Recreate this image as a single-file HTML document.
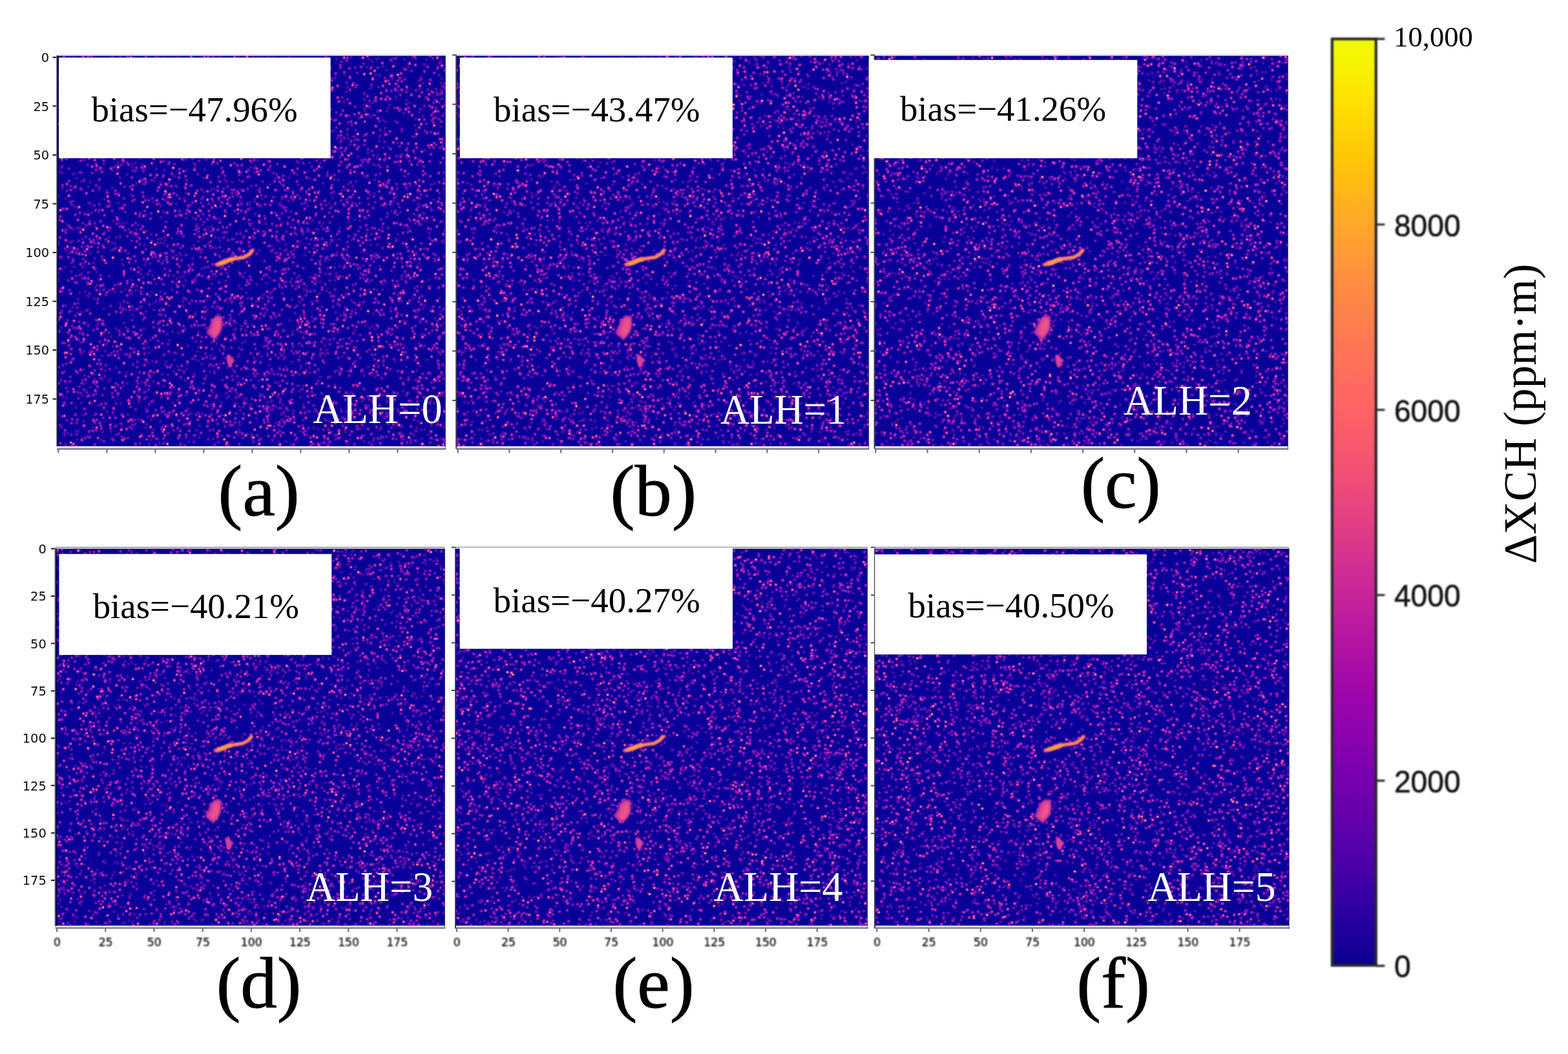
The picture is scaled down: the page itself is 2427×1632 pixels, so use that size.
<!DOCTYPE html>
<html lang="en"><head><meta charset="utf-8">
<title>Methane plume retrieval bias at different aerosol layer heights</title>
<style>
html,body{margin:0;padding:0;background:#fff;}
body{width:2427px;height:1632px;overflow:hidden;position:relative;}
svg{display:block;position:absolute;left:0;top:0;}
.se{font-family:"Liberation Serif","Times New Roman",serif;}
.sa{font-family:"DejaVu Sans","Liberation Sans",sans-serif;}
.ar{font-family:"Liberation Sans","DejaVu Sans",sans-serif;}
</style></head><body>
<svg width="2427" height="1632" viewBox="0 0 2427 1632">
<defs>
<filter id="bl" x="-20%" y="-20%" width="140%" height="140%" color-interpolation-filters="sRGB"><feGaussianBlur stdDeviation="1"/></filter>
<filter id="tb" x="-5%" y="-20%" width="110%" height="140%" color-interpolation-filters="sRGB"><feGaussianBlur stdDeviation="0.85"/></filter>
<filter id="tb2" x="-5%" y="-20%" width="110%" height="140%" color-interpolation-filters="sRGB"><feGaussianBlur stdDeviation="0.9"/></filter>
<linearGradient id="pl" x1="0" y1="1" x2="0" y2="0">
<stop offset="0%" stop-color="#0a0090"/>
<stop offset="3.6%" stop-color="#2000a0"/>
<stop offset="9.6%" stop-color="#4400a8"/>
<stop offset="16%" stop-color="#6400ac"/>
<stop offset="22.2%" stop-color="#8000b0"/>
<stop offset="28.5%" stop-color="#9c04ac"/>
<stop offset="34.8%" stop-color="#b414a4"/>
<stop offset="41.2%" stop-color="#cc2898"/>
<stop offset="47.6%" stop-color="#e23e86"/>
<stop offset="54%" stop-color="#f45272"/>
<stop offset="60.6%" stop-color="#fe6464"/>
<stop offset="67%" stop-color="#ff7654"/>
<stop offset="73.6%" stop-color="#ff8c40"/>
<stop offset="80.2%" stop-color="#ffa828"/>
<stop offset="86.6%" stop-color="#ffc408"/>
<stop offset="93.2%" stop-color="#ffe000"/>
<stop offset="98%" stop-color="#f4f600"/>
<stop offset="100%" stop-color="#f0fa00"/>
</linearGradient>
<path id="n0" d="M.5 .5m19 0h0m138 0h0m49 0h0m37 0h0m115 1h0m-332 1h0m223 0h0m31 0h0m174 0h0m-288 1h0m13 1h0m128 0h0m112 0h0m77 0h0m-269 1h0m204 0h0m50 0h0m12 0h0m43 0h0m34 1h0m23 0h0m-576 1h0m222 0h0m143 0h0m38 0h0m-208 1h0m33 0h0m241 0h0m31 0h0m-209 1h0m-135 1h0m213 0h0m207 0h0m-527 1h0m97 0h0m379 0h0m-333 1h0m28 0h0m53 0h0m52 0h0m-313 1h0m28 0h0m168 0h0m341 0h0m-330 1h0m332 0h0m-65 2h0m-388 1h0m363 0h0m64 0h0m51 0h0m-318 2h0m22 0h0m5 0h0m-300 1h0m39 0h0m62 1h0m235 0h0m-127 1h0m29 0h0m13 0h0m256 0h0m-395 1h0m123 0h0m-177 1h0m179 0h0m-138 1h0m12 0h0m289 0h0m-347 2h0m102 1h0m52 0h0m235 0h0m-292 1h0m61 0h0m74 0h0m22 0h0m104 0h0m7 0h0m72 0h0m-302 1h0m11 0h0m77 0h0m220 0h0m92 0h0m-138 1h0m-400 1h0m95 0h0m-94 1h0m267 1h0m109 0h0m131 0h0m2 0h0m-239 1h0m130 0h0m141 0h0m-564 1h0m147 0h0m136 0h0m81 0h0m-97 1h0m-4 1h0m213 1h0m-473 1h0m380 1h0m179 0h0m-553 1h0m261 0h0m3 0h0m20 0h0m21 0h0m221 0h0m-450 1h0m11 0h0m26 0h0m77 0h0m282 0h0m-424 1h0m104 0h0m168 0h0m55 0h0m-394 1h0m161 0h0m-168 1h0m104 0h0m24 0h0m25 0h0m24 0h0m116 0h0m-227 1h0m13 0h0m393 0h0m-404 1h0m15 0h0m114 0h0m238 0h0m48 0h0m-376 1h0m401 0h0m-433 1h0m395 0h0m-462 1h0m8 0h0m332 0h0m199 0h0m-298 2h0m253 0h0m25 0h0m-320 1h0m74 0h0m232 0h0m-200 1h0m121 0h0m-446 1h0m57 1h0m51 0h0m31 2h0m15 0h0m227 0h0m-345 2h0m149 0h0m205 1h0m-295 1h0m260 0h0m42 0h0m-326 1h0m214 0h0m237 0h0m46 1h0m-264 1h0m-38 1h0m207 0h0m-454 1h0m194 0h0m325 0h0m-351 1h0m81 0h0m-25 1h0m-187 1h0m386 0h0m-77 1h0m68 0h0m53 0h0m57 0h0m46 0h0m-300 1h0m-164 2h0m252 0h0m97 0h0m38 0h0m-348 2h0m51 1h0m92 2h0m35 0h0m131 0h0m37 0h0m-460 1h0m34 0h0m34 0h0m-4 2h0m169 0h0m27 1h0m164 0h0m63 0h0m-292 1h0m71 0h0m69 0h0m123 0h0m-164 1h0m214 1h0m-472 1h0m448 0h0m63 0h0m-231 1h0m9 0h0m111 2h0m-413 1h0m76 0h0m94 0h0m58 0h0m24 1h0m57 0h0m182 0h0m-396 1h0m315 0h0m-419 2h0m223 0h0m89 0h0m89 0h0m88 1h0m-451 2h0m33 0h0m367 0h0m-454 1h0m52 0h0m421 0h0m-504 1h0m52 0h0m437 0h0m-89 2h0m-268 2h0m173 1h0m-264 1h0m3 0h0m10 0h0m481 0h0m-397 1h0m10 0h0m-35 1h0m198 0h0m51 0h0m212 0h0m-501 1h0m297 0h0m-264 1h0m382 0h0m-506 1h0m271 2h0m190 0h0m93 0h0m-127 1h0m-353 1h0m285 0h0m65 0h0m108 0h0m-232 1h0m122 0h0m83 0h0m-441 1h0m28 0h0m245 0h0m24 0h0m-137 1h0m70 0h0m260 0h0m-315 2h0m153 0h0m56 0h0m62 0h0m-11 1h0m-496 1h0m56 0h0m414 0h0m81 1h0m-353 1h0m190 0h0m106 0h0m-260 1h0m195 1h0m6 0h0m11 0h0m-95 1h0m-61 1h0m-189 1h0m356 0h0m37 1h0m-356 1h0m264 0h0m-192 1h0m224 0h0m-343 1h0m148 0h0m4 0h0m279 0h0m18 1h0m-520 1h0m93 0h0m336 0h0m103 1h0m-241 1h0m-102 1h0m299 1h0m-19 1h0m11 0h0m-386 1h0m81 0h0m71 0h0m84 1h0m186 0h0m-531 2h0m67 0h0m47 0h0m99 0h0m347 0h0m-149 1h0m-271 1h0m230 0h0m47 1h0m-364 1h0m118 0h0m29 0h0m16 0h0m256 0h0m71 0h0m-440 2h0m129 0h0m67 1h0m46 0h0m51 0h0m129 0h0m-522 1h0m185 0h0m299 0h0m-413 1h0m58 0h0m2 1h0m56 0h0m43 0h0m223 0h0m-217 1h0m292 0h0m-340 1h0m295 0h0m-423 1h0m487 0h0m-248 2h0m15 1h0m-231 3h0m27 0h0m252 0h0m17 0h0m-270 1h0m91 0h0m195 0h0m-334 1h0m30 0h0m13 0h0m16 1h0m357 0h0m-396 1h0m399 0h0m38 0h0m-413 2h0m190 0h0m87 0h0m-94 1h0m109 0h0m-403 1h0m299 1h0m-211 1h0m60 0h0m75 0h0m-93 1h0m31 0h0m-80 1h0m114 0h0m-196 2h0m281 0h0m225 0h0m-205 1h0m-297 1h0m19 1h0m-3 1h0m84 0h0m262 0h0m103 2h0m-292 1h0m355 0h0m1 0h0m-278 1h0m218 0h0m-380 1h0m242 0h0m19 0h0m-328 1h0m196 0h0m121 0h0m42 0h0m-348 2h0m1 0h0m134 0h0m160 0h0m92 0h0m62 0h0m-232 1h0m23 0h0m153 0h0m-284 1h0m110 0h0m-223 1h0m95 0h0m130 0h0m199 0h0m-410 1h0m108 0h0m111 0h0m238 0h0m-336 1h0m-50 1h0m288 0h0m173 0h0m-447 1h0m193 0h0m121 0h0m-436 1h0m358 0h0m206 0h0m-33 1h0m-363 1h0m23 0h0m95 0h0m156 0h0m49 0h0m-457 1h0m-40 2h0m17 0h0m60 0h0m157 1h0m216 0h0m139 0h0m-329 1h0m15 0h0m162 0h0m94 0h0m-500 1h0m25 0h0m174 0h0m8 0h0m-170 1h0m280 0h0m84 0h0m11 0h0m-225 2h0m331 0h0m-282 1h0m-76 1h0m291 0h0m100 0h0m-107 2h0m116 0h0m-485 1h0m409 3h0m-522 1h0m424 0h0m-412 1h0m183 0h0m120 0h0m-243 1h0m232 0h0m42 0h0m67 0h0m90 0h0m77 1h0m-414 1h0m-147 1h0m262 0h0m75 0h0m42 0h0m120 0h0m-519 1h0m149 0h0m156 0h0m-223 1h0m216 0h0m-204 1h0m162 0h0m88 0h0m76 0h0m-368 1h0m132 0h0m319 0h0m-161 1h0m166 0h0m50 0h0m-479 1h0m2 0h0m126 0h0m87 0h0m20 0h0m-213 1h0m59 0h0m340 0h0m-113 1h0m21 0h0m16 0h0m149 0h0m-546 1h0m461 1h0m-190 1h0m54 0h0m225 0h0m-97 3h0m36 1h0m-155 1h0m-297 1h0m100 0h0m2 0h0m95 0h0m269 0h0m-477 1h0m252 2h0m-112 1h0m364 1h0m-237 1h0m259 1h0m-419 1h0m39 1h0m11 0h0m40 1h0m227 0h0m-27 2h0m9 0h0m-372 1h0m307 0h0m73 0h0m102 0h0m26 0h0m-240 2h0m95 0h0m-399 1h0m44 0h0m12 0h0m240 0h0m-246 1h0m201 0h0m109 0h0m-397 1h0m308 0h0m52 0h0m-159 1h0m10 0h0m-100 1h0m437 0h0m-263 1h0m109 0h0m-350 1h0m180 0h0m210 1h0m95 0h0m-513 1h0m12 0h0m191 0h0m268 0h0m-115 1h0m50 0h0m106 0h0m-527 1h0m10 0h0m85 0h0m290 0h0m-278 1h0m204 0h0m42 0h0m35 0h0m-392 2h0m127 0h0m-22 1h0m120 0h0m85 0h0m33 0h0m32 0h0m-123 1h0m-7 1h0m318 0h0m-456 1h0m360 0h0m-333 1h0m234 0h0m106 0h0m41 0h0m-405 2h0m2 1h0m43 1h0m51 0h0m277 0h0m-414 1h0m11 0h0m135 0h0m18 0h0m-67 1h0m73 0h0m37 0h0m260 0h0m-508 1h0m23 0h0m97 0h0m3 0h0m111 0h0m250 0h0m-367 1h0m280 0h0m-269 1h0m288 0h0m-439 1h0m235 0h0m147 0h0m-374 1h0m194 0h0m125 0h0m32 0h0m48 0h0m-338 2h0m75 0h0m74 0h0m304 0h0m59 0h0m-538 1h0m30 0h0m75 0h0m258 0h0m-189 1h0m156 0h0m-254 1h0m218 0h0m131 0h0m10 0h0m-283 1h0m200 0h0m-80 1h0m-288 1h0m498 0h0m-518 1h0m16 0h0m52 0h0m55 1h0m99 0h0m-228 1h0m220 0h0m107 0h0m52 0h0m171 0h0m3 0h0m-216 1h0m-179 1h0m191 0h0m81 0h0m-434 1h0m86 0h0m213 0h0m-56 1h0m6 1h0m24 0h0m185 0h0m4 0h0m-448 1h0m195 0h0m118 0h0m92 0h0m7 0h0m-420 1h0m32 0h0m59 0h0m79 0h0m301 1h0m35 0h0m6 0h0m-373 1h0m26 1h0m7 0h0m93 0h0m99 0h0m12 0h0m171 0h0m-22 2h0m-537 1h0m513 0h0m69 1h0m-531 1h0m100 0h0m51 0h0m88 0h0m-38 1h0m-159 1h0m320 0h0m53 0h0m-316 1h0m7 1h0m116 0h0m134 0h0m35 0h0m-312 1h0m395 0h0m-476 2h0m491 0h0m-506 1h0m102 0h0m416 0h0m-458 1h0m1 1h0m33 0h0m309 0h0m29 1h0m-37 1h0m62 0h0m57 0h0m-529 1h0m162 0h0m18 0h0m260 0h0m-454 1h0m47 0h0m369 0h0m-10 1h0m51 0h0m-246 1h0m-94 1h0m217 2h0m-324 1h0m39 1h0m219 0h0m-77 1h0m87 0h0m-252 1h0m224 0h0m169 0h0m-302 1h0m286 0h0m122 0h0m-297 1h0m-93 1h0m33 0h0m-100 1h0m165 0h0m129 0h0m-179 1h0m246 0h0m-308 1h0m57 0h0m201 0h0m196 0h0m-259 1h0m43 0h0m-186 1h0m177 0h0m111 0h0m-238 1h0m297 0h0m-468 1h0m50 0h0m178 0h0m282 0h0m-376 1h0m231 0h0m-169 1h0m-214 1h0m308 0h0m46 0h0m6 0h0m-218 1h0m293 0h0m27 0h0m-185 1h0m217 0h0m59 0h0m-446 1h0m86 0h0m69 1h0m194 0h0m17 0h0m9 0h0m-467 1h0m62 1h0m65 0h0m93 0h0m93 0h0m11 0h0m178 2h0m-504 1h0m311 0h0m152 1h0m-517 1h0m280 0h0m-180 1h0m72 0h0m204 0h0m4 0h0m97 0h0m20 0h0m-435 1h0m54 0h0m373 0h0m-275 1h0m114 0h0m83 0h0m-407 1h0m34 0h0m72 0h0m31 0h0m13 0h0m-70 1h0m-54 1h0m77 0h0m180 0h0m56 1h0m57 0h0m-290 1h0m331 0h0m85 0h0m-212 1h0m207 0h0m-480 1h0m380 0h0m-283 1h0m-95 1h0m188 0h0m96 1h0m-38 1h0m24 0h0m9 0h0m50 0h0m213 0h0m-533 1h0m205 0h0m14 0h0m273 0h0m-517 1h0m198 0h0m133 0h0m16 0h0m0 1h0m-317 1h0m91 0h0m301 0h0m40 0h0m38 0h0m-338 1h0m113 0h0m86 0h0m-289 1h0m54 0h0m216 0h0m-223 1h0m316 0h0m21 0h0m-391 1h0m362 0h0m103 0h0m-549 3h0m160 0h0m135 0h0m259 0h0m-469 1h0m96 0h0m215 1h0m-385 1h0m102 1h0m119 0h0m5 0h0m5 0h0m260 0h0m64 0h0m-507 1h0m89 0h0m404 0h0m-447 1h0m351 0h0m-421 1h0m58 0h0m43 0h0m1 0h0m82 0h0m228 0h0m100 0h0m-538 1h0m571 1h0m-456 1h0m387 0h0m32 0h0m-519 1h0m164 0h0m12 0h0m217 0h0m13 0h0m-412 1h0m290 0h0m46 0h0m121 1h0m-240 1h0m33 0h0m-164 1h0m96 0h0m225 1h0m-227 1h0m182 1h0m51 0h0m107 1h0m-238 1h0m88 0h0m182 0h0m-252 1h0m-272 1h0m254 0h0m46 1h0m36 1h0m140 0h0m4 1h0m-283 1h0m271 0h0m-514 1h0m90 0h0m53 0h0m120 0h0m-213 1h0m230 0h0m304 0h0m-296 2h0m-240 1h0m154 0h0m-4 1h0m74 0h0m126 0h0m65 0h0m105 0h0m-209 1h0m114 0h0m-480 1h0m100 0h0m-16 1h0m392 0h0m-348 1h0m63 0h0m79 0h0m53 0h0m163 1h0m-399 1h0m181 0h0m77 0h0m109 0h0m-169 1h0m73 1h0m-186 1h0m40 0h0m215 0h0m2 0h0m48 0h0m-105 1h0m4 0h0m-195 1h0m-17 1h0m348 0h0m-24 1h0m68 0h0m-315 1h0m53 0h0m183 1h0m-400 1h0m345 3h0m-181 1h0m168 0h0m11 0h0m16 0h0m-298 1h0m29 1h0m-99 1h0m256 0h0m-311 1h0m195 0h0m76 0h0m-52 1h0m-202 1h0m102 0h0m148 0h0m107 0h0m-147 1h0m313 0h0m-483 1h0m455 0h0m-329 2h0m211 0h0m123 0h0m23 0h0m8 0h0m-481 1h0m10 0h0m126 0h0m96 0h0m246 0h0m-346 1h0m131 0h0m139 0h0m-347 1h0m-88 1h0m228 0h0m214 0h0m60 0h0m-535 1h0m96 0h0m3 0h0m139 1h0m-7 1h0m165 0h0m177 0h0m-533 1h0m14 0h0m-33 1h0m176 0h0m371 0h0m-446 2h0m170 0h0m32 0h0m-306 1h0m146 0h0m140 0h0m26 0h0m47 0h0m-231 1h0m115 0h0m-187 1h0m319 0h0m179 0h0m-510 1h0m155 0h0m-168 1h0m210 0h0m1 1h0m35 0h0m60 0h0m31 0h0m34 0h0m-210 1h0m218 0h0m-189 1h0m45 0h0m-67 1h0m-141 1h0m38 0h0m79 0h0m136 0h0m155 0h0m35 0h0m-358 1h0m390 0h0m-353 1h0m-71 1h0m374 0h0m-353 1h0m194 0h0m141 0h0m-363 1h0m447 0h0m-94 1h0m-270 1h0m29 0h0m-85 1h0m34 0h0m-133 1h0m66 0h0m193 0h0m-61 1h0m110 0h0m184 0h0m-374 1h0m413 0h0m-246 1h0m83 0h0m44 0h0m59 0h0m-448 1h0m172 0h0m113 0h0m13 0h0m-189 2h0m95 0h0m50 0h0m-304 1h0m230 0h0m-197 1h0m118 0h0m243 0h0m120 0h0m-360 1h0m47 0h0m190 0h0m17 0h0m-269 1h0m56 0h0m96 0h0m-225 1h0m45 0h0m238 0h0m96 0h0m-115 1h0m-159 1h0m95 0h0m-145 1h0m9 1h0m203 0h0m-332 1h0m169 0h0m263 0h0m-244 1h0m176 1h0m84 0h0m53 0h0m20 2h0m22 0h0m-528 2h0m12 0h0m13 0h0m477 0h0m-362 1h0m58 0h0m57 1h0m-297 1h0m65 0h0m69 0h0m-106 2h0m88 0h0m205 0h0m3 0h0m-299 1h0m68 0h0m294 0h0m-141 1h0m81 0h0m87 1h0m-327 2h0m62 0h0m207 0h0m2 0h0m7 0h0m-329 2h0m532 0h0m-366 2h0m48 1h0m-221 1h0m430 0h0m-100 2h0m160 0h0m-401 2h0m53 0h0m54 0h0m36 0h0m178 0h0m-453 1h0m150 0h0m68 0h0m42 0h0m301 1h0m-562 1h0m279 0h0m35 0h0m204 0h0m-393 1h0m74 0h0m38 0h0m264 0h0m3 0h0m-465 1h0m558 0h0m-588 1h0m84 0h0m172 0h0m-127 1h0m202 0h0m2 0h0m34 0h0m-362 1h0m99 1h0m149 0h0m30 0h0m175 0h0m20 0h0m-198 2h0m-140 1h0m37 0h0m391 0h0m-245 1h0m-2 1h0m141 0h0m-345 1h0m199 0h0m263 0h0m-551 1h0m141 0h0m27 0h0m49 0h0m39 0h0m289 0h0m-484 1h0m179 0h0m-224 1h0m-41 1h0m226 0h0m61 0h0m50 0h0m31 0h0m118 0h0m-434 1h0m268 1h0m-51 1h0m6 0h0m1 0h0m-259 1h0m309 0h0m82 1h0m-283 1h0m65 0h0m37 0h0m2 0h0m357 0h0m-526 1h0m88 0h0m278 0h0m87 0h0m-243 1h0m82 0h0m-364 1h0m250 0h0m79 0h0m120 0h0m126 0h0m-210 1h0m81 0h0m-369 1h0m61 0h0m60 0h0m385 0h0m-167 1h0m-209 1h0m214 0h0m40 0h0m82 0h0m-373 1h0m54 0h0m84 0h0m56 0h0m12 0h0m-267 1h0m445 0h0m13 0h0m-527 1h0m152 0h0m62 0h0m245 0h0m13 0h0m57 0h0m17 0h0m-234 1h0m81 0h0m-293 1h0m45 0h0m123 3h0m-183 1h0m257 0h0m31 0h0m41 0h0m-309 1h0m222 0h0m107 0h0m-124 1h0m29 0h0m-338 1h0m357 0h0m22 0h0m137 0h0m-492 1h0m52 0h0m42 0h0m98 0h0m218 0h0m101 0h0m-343 2h0m105 0h0m152 0h0m34 0h0m-424 1h0m21 0h0m152 0h0m-135 1h0m213 0h0m-232 1h0m79 0h0m84 0h0m-190 1h0m78 0h0m33 0h0m17 0h0m95 0h0m-151 1h0m-109 1h0m542 0h0m-591 1h0m131 0h0m259 0h0m159 0h0m-487 2h0m334 0h0m66 0h0m-319 1h0m131 0h0m62 0h0m156 0h0m64 0h0m5 0h0m-515 1h0m163 0h0m-186 1h0m346 0h0m-342 1h0m50 0h0m-13 1h0m375 0h0m87 1h0m-515 1h0m283 1h0m-21 1h0m107 0h0m165 0h0m22 0h0m-561 1h0m416 0h0m1 0h0m45 0h0m-342 1h0m123 0h0m-36 2h0m178 0h0m99 1h0m-457 1h0m202 0h0m258 0h0m64 0h0m16 0h0m13 0h0m-561 1h0m125 0h0m146 0h0m150 0h0m132 0h0m-517 1h0m77 0h0m344 1h0m67 0h0m-202 1h0m121 0h0m-271 1h0m-45 2h0m184 0h0m66 0h0m-395 1h0m129 0h0m50 0h0m169 0h0m87 2h0m85 0h0m-223 1h0m257 0h0"/>
<path id="n1" d="M.5 .5m12 0h0m35 0h0m50 0h0m155 0h0m50 0h0m-217 1h0m68 1h0m396 0h0m-363 1h0m140 0h0m-216 1h0m7 0h0m403 0h0m3 0h0m30 0h0m27 0h0m-532 1h0m262 0h0m-147 1h0m-34 1h0m175 0h0m-108 1h0m91 0h0m-212 1h0m9 0h0m289 0h0m66 0h0m-293 1h0m109 0h0m139 1h0m196 0h0m-117 1h0m-80 1h0m-231 1h0m157 0h0m-65 1h0m-241 2h0m314 0h0m158 0h0m103 0h0m-440 1h0m49 0h0m9 0h0m163 0h0m91 0h0m35 0h0m-280 1h0m49 0h0m121 0h0m2 0h0m-340 1h0m12 0h0m231 0h0m31 0h0m214 0h0m-525 1h0m233 0h0m-204 1h0m152 0h0m-154 1h0m172 0h0m91 0h0m247 0h0m-131 1h0m-371 1h0m296 0h0m122 1h0m-427 1h0m371 0h0m-376 1h0m204 0h0m-189 1h0m43 0h0m126 1h0m28 0h0m-155 1h0m83 0h0m167 0h0m-313 2h0m481 1h0m11 0h0m-514 1h0m420 0h0m-316 1h0m238 0h0m192 0h0m25 0h0m-464 1h0m86 0h0m32 0h0m-71 1h0m125 0h0m289 0h0m-433 1h0m103 1h0m24 0h0m118 0h0m-225 1h0m301 0h0m-167 1h0m-272 1h0m477 1h0m-314 1h0m48 0h0m28 0h0m140 0h0m-155 1h0m-30 1h0m337 0h0m56 0h0m-328 1h0m194 0h0m-299 1h0m122 0h0m-40 1h0m341 1h0m-13 1h0m-453 1h0m99 0h0m78 0h0m258 0h0m39 0h0m-379 1h0m182 0h0m113 0h0m7 0h0m-136 1h0m33 0h0m-365 1h0m129 0h0m362 0h0m-331 1h0m378 0h0m-510 1h0m141 0h0m115 0h0m142 0h0m-339 1h0m56 0h0m180 0h0m16 0h0m204 0h0m-567 1h0m348 0h0m158 0h0m57 0h0m-469 1h0m14 0h0m88 1h0m-48 1h0m78 1h0m120 0h0m70 0h0m-232 1h0m120 0h0m-262 1h0m217 0h0m118 0h0m193 0h0m-551 1h0m405 0h0m136 0h0m-438 1h0m228 0h0m116 0h0m-478 1h0m470 0h0m-476 1h0m34 0h0m59 0h0m7 0h0m493 0h0m-562 1h0m254 0h0m49 0h0m-249 1h0m65 0h0m154 0h0m2 0h0m97 0h0m172 0h0m-530 1h0m488 1h0m-294 1h0m66 0h0m-30 1h0m317 0h0m-31 1h0m-107 1h0m22 0h0m-479 1h0m211 0h0m-134 1h0m104 0h0m149 0h0m3 0h0m185 0h0m64 0h0m-412 1h0m90 0h0m52 0h0m25 1h0m82 0h0m108 0h0m31 0h0m-377 2h0m80 0h0m19 0h0m-151 1h0m80 0h0m283 0h0m-373 1h0m202 0h0m-188 1h0m55 0h0m168 0h0m72 0h0m-12 1h0m-311 1h0m117 0h0m265 2h0m-437 1h0m26 0h0m299 0h0m72 0h0m145 0h0m-532 1h0m79 0h0m234 0h0m-96 2h0m98 0h0m207 0h0m-491 1h0m64 0h0m202 1h0m230 0h0m-577 1h0m48 0h0m58 0h0m312 0h0m-18 1h0m84 1h0m-163 1h0m-273 1h0m6 0h0m94 0h0m288 0h0m76 0h0m-487 1h0m288 0h0m244 1h0m-401 1h0m226 0h0m60 1h0m-392 1h0m40 0h0m-22 1h0m128 0h0m138 1h0m59 0h0m25 1h0m-424 1h0m75 0h0m28 0h0m92 0h0m-178 1h0m26 1h0m64 0h0m170 0h0m70 0h0m94 0h0m84 0h0m-122 1h0m89 0h0m-456 1h0m134 0h0m32 0h0m117 0h0m242 0h0m-554 2h0m44 0h0m519 0h0m-497 2h0m224 0h0m40 0h0m134 1h0m-385 1h0m5 0h0m83 0h0m194 0h0m-159 1h0m64 0h0m-136 1h0m203 0h0m87 0h0m-350 1h0m237 0h0m19 0h0m118 0h0m92 0h0m-201 1h0m66 0h0m-6 1h0m34 0h0m-114 1h0m-269 1h0m402 0h0m137 0h0m-566 1h0m185 0h0m148 0h0m99 0h0m-342 1h0m148 0h0m37 0h0m-88 1h0m219 0h0m-196 1h0m262 0h0m-450 1h0m35 2h0m123 0h0m67 0h0m-171 1h0m175 0h0m100 1h0m90 0h0m111 0h0m-487 1h0m78 0h0m231 0h0m-326 1h0m448 0h0m66 0h0m-580 1h0m64 0h0m284 0h0m212 1h0m16 0h0m-418 1h0m263 0h0m104 0h0m-233 1h0m-151 1h0m220 0h0m104 0h0m-66 1h0m-233 1h0m2 0h0m243 0h0m18 0h0m42 0h0m-422 2h0m304 0h0m71 0h0m-199 1h0m5 0h0m18 0h0m-110 2h0m103 0h0m150 0h0m-106 1h0m96 1h0m10 0h0m82 0h0m43 0h0m-410 1h0m403 0h0m-212 1h0m125 0h0m107 0h0m-385 1h0m190 0h0m-222 1h0m380 0h0m-298 1h0m-11 1h0m32 0h0m219 0h0m25 0h0m-433 1h0m373 0h0m56 0h0m7 0h0m-258 1h0m182 0h0m143 0h0m-380 1h0m206 0h0m174 0h0m-244 1h0m172 0h0m86 0h0m-450 1h0m139 1h0m26 0h0m107 0h0m-208 1h0m9 0h0m58 0h0m101 0h0m-293 1h0m166 0h0m343 0h0m-458 1h0m398 0h0m-167 1h0m136 0h0m-457 1h0m558 0h0m-478 1h0m240 0h0m171 0h0m-287 1h0m42 0h0m193 0h0m-429 1h0m114 0h0m-66 1h0m229 1h0m-178 1h0m336 0h0m-332 1h0m12 0h0m-98 2h0m2 0h0m560 0h0m-543 1h0m280 0h0m83 0h0m-162 1h0m27 0h0m217 0h0m43 0h0m-325 1h0m122 0h0m-58 1h0m147 0h0m64 0h0m-233 1h0m90 0h0m68 0h0m62 0h0m-182 1h0m-134 1h0m86 0h0m-98 1h0m-151 1h0m598 1h0m-469 1h0m4 0h0m13 1h0m54 0h0m199 0h0m-358 1h0m558 0h0m-282 1h0m136 1h0m-108 2h0m-211 1h0m390 0h0m15 0h0m15 0h0m-494 2h0m110 0h0m137 0h0m-286 1h0m163 0h0m-80 1h0m9 0h0m84 0h0m66 0h0m-198 1h0m474 0h0m-282 2h0m37 0h0m19 0h0m212 0h0m-302 1h0m47 1h0m41 0h0m65 0h0m-361 1h0m370 1h0m19 0h0m156 0h0m-196 1h0m63 0h0m-333 2h0m176 0h0m115 0h0m38 0h0m-248 1h0m-10 1h0m199 0h0m93 0h0m105 0h0m-377 1h0m93 0h0m37 0h0m56 0h0m-254 1h0m237 0h0m217 0h0m-300 1h0m51 0h0m167 0h0m-319 1h0m55 0h0m109 0h0m14 0h0m153 0h0m19 1h0m-417 1h0m44 0h0m42 0h0m186 0h0m105 0h0m80 0h0m30 0h0m-367 1h0m27 1h0m197 0h0m-306 1h0m249 0h0m48 0h0m113 0h0m-527 1h0m92 0h0m125 1h0m-32 1h0m282 0h0m-470 1h0m28 0h0m173 0h0m161 0h0m73 0h0m11 0h0m-310 1h0m20 0h0m57 0h0m51 0h0m8 0h0m85 0h0m148 0h0m-461 1h0m219 0h0m177 0h0m20 0h0m-458 1h0m392 0h0m-358 1h0m289 0h0m98 0h0m19 0h0m-261 1h0m50 0h0m61 0h0m-236 1h0m169 0h0m282 0h0m30 0h0m-205 1h0m99 0h0m-355 1h0m325 0h0m66 0h0m-481 1h0m212 1h0m-154 1h0m490 0h0m23 0h0m-493 1h0m50 0h0m54 0h0m85 0h0m248 0h0m-53 1h0m-364 1h0m186 1h0m46 0h0m83 0h0m-292 1h0m17 0h0m134 0h0m68 0h0m163 0h0m56 0h0m-341 1h0m326 0h0m-363 1h0m337 0h0m-398 1h0m9 0h0m-9 2h0m298 0h0m84 0h0m-151 1h0m201 0h0m-314 2h0m298 0h0m-329 1h0m8 0h0m10 0h0m268 0h0m-118 2h0m163 0h0m8 0h0m-503 1h0m118 1h0m59 0h0m145 1h0m33 0h0m16 0h0m-382 1h0m19 0h0m63 0h0m432 0h0m-461 1h0m240 0h0m-287 2h0m491 0h0m-321 2h0m47 1h0m99 0h0m107 0h0m-386 1h0m180 0h0m224 0h0m25 0h0m-476 1h0m152 0h0m190 0h0m-73 1h0m107 0h0m166 0h0m-98 1h0m18 0h0m-484 1h0m66 0h0m26 0h0m283 0h0m31 0h0m-179 1h0m225 0h0m-247 1h0m101 0h0m20 0h0m202 1h0m-528 1h0m60 0h0m112 0h0m182 0h0m-90 1h0m6 0h0m86 1h0m63 0h0m-324 3h0m87 0h0m93 0h0m14 0h0m148 0h0m-406 1h0m53 0h0m160 1h0m240 0h0m-193 1h0m81 0h0m190 0h0m-166 1h0m-359 1h0m25 0h0m195 0h0m122 0h0m-128 1h0m76 0h0m143 0h0m-450 1h0m82 0h0m31 0h0m377 0h0m76 0h0m-362 1h0m357 0h0m-573 1h0m427 0h0m-446 1h0m54 0h0m99 1h0m129 0h0m278 0h0m-561 1h0m126 0h0m58 1h0m-115 1h0m328 0h0m-228 1h0m127 0h0m-259 1h0m330 0h0m81 0h0m104 0h0m-490 1h0m177 0h0m11 0h0m289 0h0m-349 1h0m311 0h0m-490 1h0m77 0h0m119 0h0m-177 1h0m106 0h0m-52 1h0m138 0h0m110 0h0m-35 1h0m54 0h0m49 0h0m-304 1h0m83 0h0m151 0h0m-268 1h0m298 0h0m28 0h0m11 0h0m-370 1h0m307 1h0m217 0h0m-394 1h0m148 0h0m273 0h0m-382 2h0m71 0h0m161 0h0m153 0h0m-334 1h0m94 0h0m-275 1h0m421 0h0m78 0h0m-421 1h0m5 0h0m69 0h0m30 0h0m115 0h0m51 0h0m34 0h0m148 0h0m-106 1h0m-353 1h0m332 0h0m74 0h0m-522 1h0m16 0h0m30 0h0m415 0h0m98 0h0m-190 1h0m52 0h0m-253 1h0m64 0h0m150 0h0m-285 1h0m199 0h0m264 0h0m-179 1h0m84 0h0m-467 2h0m140 1h0m290 0h0m-249 3h0m337 0h0m-351 1h0m76 0h0m-226 1h0m194 0h0m23 0h0m-131 1h0m103 0h0m371 0h0m-346 1h0m6 0h0m66 0h0m55 0h0m62 0h0m-328 1h0m52 0h0m299 0h0m-137 2h0m-185 1h0m373 0h0m21 1h0m-536 2h0m47 0h0m304 0h0m14 1h0m103 0h0m-329 1h0m27 0h0m76 0h0m40 1h0m38 0h0m3 0h0m75 0h0m77 0h0m-441 1h0m32 0h0m105 0h0m-143 1h0m187 0h0m8 0h0m95 0h0m213 0h0m-245 1h0m11 0h0m133 0h0m108 0h0m-496 1h0m425 1h0m116 0h0m-545 1h0m507 0h0m-333 1h0m103 0h0m61 1h0m-360 1h0m192 0h0m212 0h0m64 0h0m-272 1h0m163 0h0m149 0h0m-524 1h0m359 0h0m-110 1h0m101 0h0m-320 1h0m153 1h0m277 0h0m-367 1h0m249 0h0m71 0h0m-325 1h0m368 0h0m-262 1h0m67 0h0m101 0h0m-20 1h0m213 0h0m18 0h0m-227 2h0m205 1h0m-184 1h0m121 0h0m-417 1h0m144 0h0m213 0h0m-410 1h0m62 0h0m316 1h0m-298 1h0m30 0h0m257 0h0m5 0h0m-62 2h0m92 0h0m-371 1h0m116 0h0m-36 1h0m115 0h0m-170 1h0m309 1h0m-115 1h0m154 0h0m140 0h0m-238 1h0m-12 1h0m-117 1h0m135 0h0m-268 1h0m371 0h0m-275 1h0m40 0h0m9 2h0m103 0h0m-208 1h0m167 0h0m288 0h0m-289 1h0m204 0h0m85 0h0m-449 1h0m349 0h0m-426 1h0m30 0h0m142 0h0m38 0h0m40 0h0m151 1h0m-291 1h0m321 0h0m-27 1h0m-354 1h0m202 0h0m86 0h0m-255 1h0m15 0h0m110 0h0m8 0h0m178 0h0m155 0h0m-353 1h0m139 0h0m223 0h0m-559 1h0m66 0h0m224 0h0m124 0h0m-343 1h0m495 1h0m-496 1h0m11 0h0m212 0h0m23 0h0m99 0h0m-401 1h0m335 0h0m-373 1h0m448 0h0m60 0h0m-61 4h0m-374 1h0m52 0h0m26 0h0m177 0h0m108 0h0m149 0h0m-431 1h0m106 0h0m114 0h0m151 0h0m-504 1h0m139 0h0m57 2h0m113 0h0m38 0h0m181 0h0m-332 1h0m33 0h0m189 0h0m-201 1h0m23 0h0m165 0h0m-205 1h0m-95 1h0m429 0h0m-546 1h0m100 0h0m123 0h0m10 0h0m17 0h0m25 1h0m296 0h0m-553 2h0m526 0h0m-516 1h0m363 0h0m-366 1h0m200 0h0m13 1h0m91 0h0m78 0h0m-351 1h0m304 0h0m117 0h0m-445 1h0m116 0h0m54 0h0m5 0h0m45 0h0m324 0h0m-569 1h0m172 0h0m12 0h0m346 0h0m-404 2h0m376 0h0m-500 1h0m3 0h0m202 0h0m199 0h0m-272 1h0m127 1h0m-228 1h0m293 1h0m75 0h0m155 0h0m-483 1h0m412 0h0m-390 1h0m257 0h0m-303 1h0m8 0h0m-45 1h0m62 0h0m360 0h0m-59 1h0m-35 1h0m152 0h0m-419 1h0m34 0h0m177 0h0m161 0h0m123 2h0m-368 1h0m-203 1h0m87 0h0m273 0h0m-55 1h0m126 0h0m96 0h0m-434 1h0m-80 1h0m388 0h0m-99 1h0m-166 1h0m299 0h0m8 0h0m-397 1h0m156 0h0m103 0h0m83 0h0m101 0h0m-501 2h0m366 1h0m78 0h0m-281 1h0m250 0h0m-97 2h0m23 0h0m31 0h0m143 0h0m-200 1h0m43 0h0m72 0h0m4 0h0m-171 2h0m189 0h0m3 0h0m-135 1h0m-87 1h0m67 0h0m-208 1h0m187 0h0m122 0h0m75 0h0m-120 2h0m-274 1h0m5 0h0m276 0h0m5 0h0m104 0h0m-442 1h0m14 0h0m488 0h0m-357 1h0m205 0h0m23 0h0m182 0h0m-541 1h0m34 0h0m51 0h0m94 0h0m70 0h0m66 0h0m53 0h0m-313 1h0m8 0h0m293 0h0m128 0h0m-426 1h0m229 0h0m149 0h0m5 0h0m-412 1h0m85 0h0m161 0h0m21 0h0m207 0h0m-50 2h0m-272 1h0m13 0h0m107 0h0m-81 1h0m71 0h0m93 0h0m34 0h0m-259 1h0m281 1h0m30 0h0m-497 1h0m530 0h0m-287 1h0m40 1h0m198 0h0m-380 1h0m336 0h0m-75 2h0m-371 1h0m103 1h0m120 0h0m358 0h0m-586 1h0m66 0h0m101 0h0m59 0h0m269 0h0m-263 1h0m255 1h0m-373 1h0m466 0h0m-246 2h0m111 0h0m135 0h0m-508 1h0m203 0h0m47 0h0m183 0h0m-326 1h0m215 0h0m68 0h0m-413 1h0m249 0h0m219 1h0m-515 1h0m263 0h0m123 0h0m32 0h0m-302 1h0m22 0h0m47 0h0m242 0h0m-297 1h0m102 0h0m-188 1h0m248 0h0m6 0h0m255 0h0m12 0h0m-520 1h0m279 0h0m6 0h0m165 0h0m88 0h0m-273 2h0m130 0h0m-378 1h0m197 0h0m8 0h0m28 0h0m285 0h0m-571 1h0m29 0h0m372 0h0m-278 1h0m48 0h0m227 0h0m-350 1h0m433 0h0m87 0h0m-301 1h0m310 0h0m-591 2h0m33 0h0m232 0h0m28 0h0m255 0h0m-495 1h0m344 0h0m-383 1h0m260 2h0m298 0h0m-487 1h0m34 0h0m101 0h0m-167 1h0m181 1h0m295 0h0m-441 1h0m43 0h0m166 0h0m-161 1h0m415 0h0m-523 1h0m146 1h0m-166 1h0m292 0h0m131 0h0m-364 1h0m400 0h0m-95 1h0m-337 1h0m100 0h0m-15 2h0m-110 1h0m120 0h0m257 0h0m164 0h0m-525 1h0m14 0h0m-10 1h0m49 0h0m9 0h0m314 0h0m117 0h0m-465 1h0m-53 1h0m335 0h0m108 0h0m-380 1h0m99 0h0m147 0h0m82 0h0m141 0h0m52 0h0m-467 1h0m318 0h0m52 0h0m-213 1h0m32 0h0m-152 1h0m405 0h0m-290 1h0m220 0h0m14 0h0m-477 1h0m102 0h0m433 0h0m-267 1h0m-175 1h0m219 0h0m137 0h0m64 2h0m-188 1h0m151 0h0m47 0h0m-267 1h0m55 0h0m-253 2h0m51 1h0m132 0h0m181 0h0m-59 2h0m80 0h0m22 0h0m-18 1h0m-367 1h0m49 1h0m165 0h0m16 1h0m2 0h0m-25 1h0m-233 1h0m34 0h0m211 0h0m66 0h0m158 0h0m-404 1h0m204 0h0m71 0h0m56 0h0m54 0h0m-372 2h0m224 0h0m11 0h0m39 0h0m88 0h0m-365 1h0m16 0h0m172 0h0m34 0h0m-298 1h0m132 1h0m58 0h0m106 0h0m127 0h0m-508 1h0m59 0h0m228 0h0m59 0h0m81 0h0m101 0h0m-471 1h0m93 0h0m16 0h0m36 0h0m11 0h0m24 0h0m89 0h0m0 1h0m-320 2h0m350 1h0m-286 1h0m370 0h0m64 0h0m-70 2h0m-316 1h0m127 0h0m73 0h0m28 0h0m57 0h0m147 0h0m-536 1h0m400 0h0m15 0h0m15 1h0m-119 1h0m-51 1h0m6 0h0m189 0h0m-440 1h0m28 0h0m541 0h0m-501 1h0m102 0h0m48 0h0m263 0h0m-315 1h0m-191 1h0m111 0h0m462 0h0m-199 1h0m62 0h0m-352 1h0m170 0h0m76 0h0m12 0h0m185 0h0m-420 1h0m50 1h0m338 0h0m16 0h0m-401 1h0m273 0h0m-227 1h0m80 1h0m170 0h0m8 0h0m25 0h0m-264 1h0m56 0h0m318 1h0m-210 1h0m-62 1h0m141 0h0m-412 2h0m84 0h0m76 0h0m375 0h0m-516 1h0m263 0h0m-271 1h0m70 0h0m340 0h0m20 0h0m79 0h0m-222 1h0m-262 2h0m53 0h0m235 0h0m165 0h0m8 0h0m-309 1h0m49 0h0m255 0h0m-460 1h0m66 0h0m178 0h0m146 0h0m-348 1h0m79 0h0m151 0h0m174 0h0m6 0h0m-262 1h0m197 0h0m93 0h0m11 0h0m-202 1h0m36 0h0m178 0h0m-335 3h0m38 0h0m54 0h0m179 1h0m64 0h0m30 0h0m-448 1h0m36 0h0m117 1h0m-91 1h0m53 0h0m21 0h0m195 0h0m27 0h0m76 0h0m-365 1h0m-184 1h0m16 0h0"/>
<path id="n2" d="M.5 .5m53 0h0m187 0h0m336 0h0m-528 1h0m61 0h0m-99 1h0m127 0h0m278 0h0m-361 1h0m394 0h0m-159 1h0m-183 1h0m304 0h0m105 1h0m-259 1h0m156 0h0m35 0h0m-404 1h0m9 0h0m259 1h0m-192 1h0m117 0h0m2 1h0m-167 1h0m43 0h0m-76 1h0m310 0h0m-41 1h0m130 0h0m-48 1h0m-184 1h0m160 1h0m3 0h0m101 0h0m103 0h0m-391 1h0m135 0h0m35 0h0m48 0h0m38 0h0m-414 1h0m428 0h0m33 0h0m103 0h0m-178 1h0m-343 1h0m472 0h0m-289 1h0m-191 1h0m168 0h0m-101 1h0m192 0h0m250 0h0m-255 1h0m131 0h0m-276 1h0m141 0h0m60 0h0m214 0h0m-152 1h0m-227 1h0m-82 1h0m139 0h0m32 0h0m125 1h0m-145 1h0m45 1h0m40 0h0m-67 1h0m46 0h0m-271 1h0m290 0h0m39 0h0m15 0h0m78 0h0m42 0h0m-417 1h0m18 0h0m15 0h0m63 0h0m-206 1h0m49 0h0m270 0h0m41 0h0m214 1h0m-375 1h0m223 0h0m87 0h0m15 0h0m6 1h0m-432 1h0m244 1h0m-51 1h0m73 0h0m24 0h0m67 0h0m-205 1h0m59 0h0m7 1h0m60 0h0m-361 1h0m240 0h0m205 0h0m-312 1h0m115 1h0m129 0h0m133 0h0m-402 2h0m139 0h0m32 0h0m52 0h0m-347 1h0m30 0h0m46 0h0m88 0h0m165 0h0m-256 1h0m325 1h0m4 0h0m49 0h0m56 1h0m-487 1h0m17 0h0m154 0h0m-50 1h0m436 0h0m-320 1h0m305 0h0m17 0h0m-329 1h0m7 0h0m336 0h0m-480 2h0m100 0h0m-208 1h0m61 0h0m308 0h0m-355 2h0m205 0h0m96 0h0m158 0h0m-479 1h0m23 0h0m79 0h0m74 0h0m41 0h0m293 0h0m-454 1h0m175 0h0m339 0h0m-461 1h0m126 0h0m146 0h0m-207 1h0m142 1h0m176 2h0m-330 1h0m125 0h0m77 1h0m-185 1h0m-137 1h0m179 1h0m-97 1h0m176 0h0m94 1h0m-20 1h0m201 0h0m-568 1h0m111 0h0m295 0h0m-210 1h0m126 0h0m54 0h0m5 0h0m-191 1h0m179 0h0m166 0h0m-317 4h0m32 0h0m184 0h0m87 0h0m-522 1h0m78 0h0m178 0h0m87 0h0m239 0h0m-218 1h0m-64 1h0m275 0h0m-489 1h0m319 0h0m-310 2h0m192 0h0m145 0h0m21 0h0m21 0h0m98 1h0m-451 1h0m281 0h0m62 0h0m-398 2h0m203 0h0m-152 1h0m100 0h0m3 0h0m7 0h0m-103 1h0m202 0h0m249 0h0m-533 1h0m62 0h0m71 0h0m139 0h0m17 0h0m-125 1h0m355 0h0m-492 1h0m275 0h0m78 0h0m151 0h0m-447 1h0m49 0h0m3 0h0m44 0h0m-187 1h0m195 0h0m30 0h0m188 0h0m139 0h0m-465 1h0m15 0h0m438 1h0m-372 1h0m176 0h0m-376 1h0m213 0h0m44 0h0m59 0h0m94 0h0m-62 1h0m54 0h0m-381 1h0m-15 2h0m53 0h0m31 0h0m190 0h0m-257 1h0m115 1h0m21 0h0m29 2h0m213 0h0m-225 1h0m48 1h0m-205 1h0m268 0h0m37 0h0m82 0h0m99 0h0m-427 1h0m25 0h0m178 0h0m281 1h0m-501 1h0m141 0h0m377 0h0m-5 1h0m-107 1h0m-165 1h0m127 0h0m-424 1h0m275 1h0m108 0h0m-126 1h0m-189 1h0m109 0h0m-103 1h0m147 0h0m109 0h0m-224 3h0m-25 1h0m359 0h0m-314 1h0m61 0h0m57 0h0m104 1h0m-17 1h0m237 0h0m-484 1h0m444 0h0m-369 1h0m186 0h0m-270 1h0m247 0h0m238 0h0m-467 1h0m466 0h0m-428 1h0m-51 1h0m29 0h0m342 0h0m-26 1h0m116 0h0m26 0h0m-150 1h0m15 0h0m-403 1h0m109 0h0m244 0h0m67 0h0m52 0h0m-498 1h0m177 0h0m-142 1h0m269 0h0m82 0h0m136 0h0m-539 1h0m550 0h0m-473 1h0m-43 1h0m76 0h0m54 1h0m-140 1h0m145 0h0m128 0h0m21 1h0m94 0h0m165 0h0m-382 1h0m-43 1h0m212 0h0m-189 1h0m50 0h0m305 1h0m-125 1h0m191 1h0m-582 1h0m35 0h0m193 1h0m-235 1h0m94 0h0m203 0h0m201 0h0m-469 1h0m36 0h0m226 0h0m114 0h0m-310 1h0m473 0h0m-137 1h0m42 0h0m41 0h0m4 0h0m-352 1h0m419 0h0m-532 2h0m50 1h0m168 1h0m7 0h0m150 0h0m34 0h0m-376 2h0m355 0h0m16 0h0m46 0h0m-380 1h0m-8 1h0m249 1h0m-182 1h0m212 0h0m-341 1h0m266 0h0m205 0h0m-251 1h0m34 0h0m83 0h0m38 1h0m130 0h0m-496 1h0m297 2h0m223 0h0m-412 1h0m391 0h0m-3 2h0m-401 1h0m34 1h0m378 0h0m-282 1h0m-179 1h0m73 0h0m197 0h0m-320 3h0m332 0h0m115 1h0m47 0h0m-541 1h0m494 0h0m-261 1h0m35 0h0m50 0h0m7 0h0m27 0h0m127 0h0m-360 1h0m100 0h0m353 0h0m-79 1h0m33 1h0m-384 2h0m-152 1h0m109 0h0m90 0h0m142 0h0m75 0h0m73 0h0m10 0h0m-331 1h0m72 1h0m194 0h0m-406 3h0m353 1h0m187 0h0m-555 1h0m252 0h0m79 0h0m165 0h0m-462 1h0m35 0h0m65 0h0m61 0h0m32 0h0m322 0h0m-292 1h0m219 0h0m-184 1h0m-236 1h0m55 0h0m232 0h0m150 0h0m-346 1h0m12 0h0m-90 1h0m346 0h0m105 1h0m-541 1h0m256 1h0m-123 1h0m122 0h0m28 1h0m78 0h0m90 0h0m3 0h0m-205 1h0m17 0h0m200 0h0m-303 2h0m76 0h0m-120 1h0m144 0h0m101 0h0m-228 1h0m61 1h0m216 0h0m-159 2h0m194 0h0m145 1h0m-164 1h0m-275 1h0m167 0h0m86 0h0m35 0h0m72 0h0m-410 1h0m225 0h0m265 0h0m-391 1h0m64 0h0m298 0h0m-485 1h0m145 0h0m-193 2h0m207 0h0m111 0h0m-340 2h0m372 0h0m27 0h0m-114 1h0m260 0h0m-496 1h0m142 0h0m33 1h0m25 0h0m25 0h0m69 0h0m-62 1h0m188 0h0m118 0h0m-562 2h0m486 0h0m-322 1h0m201 0h0m-357 1h0m-15 1h0m45 1h0m162 0h0m164 0h0m82 0h0m-298 1h0m35 0h0m-213 1h0m87 1h0m383 0h0m-331 2h0m177 0h0m22 0h0m-339 2h0m292 0h0m68 0h0m-52 1h0m-245 1h0m525 1h0m-341 1h0m135 1h0m138 0h0m-227 1h0m59 0h0m147 0h0m56 0h0m-292 1h0m-151 1h0m361 0h0m63 0h0m-522 1h0m321 0h0m-242 1h0m35 0h0m-30 1h0m154 0h0m-235 1h0m58 0h0m139 1h0m231 0h0m41 0h0m83 0h0m-444 1h0m85 1h0m14 0h0m20 0h0m130 0h0m-1 1h0m222 0h0m-412 1h0m105 0h0m124 0h0m86 0h0m43 0h0m-166 1h0m56 0h0m-322 1h0m146 0h0m275 1h0m-342 1h0m129 0h0m-250 1h0m52 0h0m89 0h0m-59 1h0m73 0h0m234 0h0m-122 2h0m-334 2h0m334 0h0m132 0h0m-343 1h0m12 0h0m208 0h0m111 1h0m-109 1h0m53 0h0m-346 1h0m368 0h0m161 0h0m-6 1h0m-456 1h0m248 0h0m-93 1h0m6 0h0m12 0h0m176 1h0m62 1h0m-347 1h0m229 2h0m16 0h0m36 0h0m-421 1h0m147 0h0m34 0h0m8 0h0m91 0h0m-274 1h0m-4 1h0m465 0h0m-233 2h0m129 0h0m-384 1h0m546 0h0m-290 1h0m-177 1h0m-62 1h0m135 0h0m364 0h0m-411 1h0m36 2h0m2 0h0m103 0h0m73 1h0m185 0h0m-491 1h0m112 0h0m205 0h0m8 0h0m201 0h0m-275 1h0m204 0h0m-375 2h0m288 0h0m192 0h0m-594 1h0m12 0h0m152 0h0m328 0h0m-318 1h0m104 0h0m75 0h0m84 0h0m-27 1h0m110 0h0m-412 1h0m21 0h0m218 0h0m-183 1h0m170 1h0m-314 1h0m131 0h0m321 0h0m-433 1h0m188 0h0m312 0h0m-433 1h0m59 0h0m123 0h0m71 0h0m-94 1h0m-221 1h0m-13 1h0m149 0h0m24 0h0m31 0h0m5 0h0m161 0h0m52 0h0m5 1h0m-214 1h0m234 0h0m-112 1h0m175 0h0m-218 1h0m116 0h0m76 0h0m13 0h0m-210 2h0m-322 1h0m57 0h0m147 0h0m152 0h0m-8 1h0m3 0h0m129 0h0m108 0h0m-380 1h0m-35 1h0m303 0h0m-239 1h0m99 0h0m-212 1h0m61 0h0m11 0h0m209 0h0m-124 2h0m-29 1h0m168 0h0m51 1h0m122 0h0m-491 1h0m348 0h0m-47 1h0m-140 1h0m172 0h0m-203 2h0m166 0h0m146 0h0m-544 1h0m42 0h0m5 0h0m542 0h0m-440 1h0m11 0h0m237 0h0m81 0h0m-180 1h0m36 1h0m170 0h0m13 0h0m-410 1h0m241 0h0m-171 1h0m116 0h0m75 0h0m25 0h0m144 0h0m-510 1h0m80 1h0m37 0h0m151 1h0m85 0h0m17 0h0m-234 1h0m-93 1h0m221 0h0m-176 1h0m410 0h0m-173 1h0m-238 1h0m258 0h0m36 1h0m180 0h0m-355 1h0m20 0h0m82 1h0m133 0h0m-60 1h0m-348 1h0m495 1h0m-352 1h0m56 0h0m-183 1h0m108 0h0m38 0h0m253 2h0m44 0h0m-412 3h0m331 0h0m29 0h0m-41 1h0m-267 1h0m89 0h0m26 0h0m11 0h0m-112 2h0m340 0h0m45 0h0m-292 1h0m33 0h0m191 0h0m-141 2h0m-215 1h0m124 0h0m142 0h0m25 0h0m102 0h0m16 0h0m-330 1h0m7 0h0m105 0h0m-83 1h0m275 0h0m-350 1h0m117 0h0m205 0h0m6 0h0m-469 2h0m367 0h0m-92 1h0m19 0h0m241 0h0m-227 1h0m46 0h0m-372 1h0m179 0h0m129 4h0m-194 1h0m165 1h0m213 0h0m21 0h0m35 0h0m-399 1h0m248 0h0m145 0h0m1 1h0m25 0h0m-558 1h0m72 0h0m193 0h0m-186 1h0m283 0h0m116 0h0m-492 1h0m329 0h0m127 0h0m-410 1h0m263 0h0m211 0h0m-21 1h0m-161 1h0m102 0h0m54 0h0m-196 1h0m16 0h0m11 2h0m123 0h0m-318 1h0m170 1h0m211 0h0m-342 1h0m224 0h0m10 0h0m-405 1h0m429 0h0m-371 1h0m9 1h0m203 0h0m-114 1h0m56 0h0m171 0h0m184 0h0m-422 1h0m224 0h0m15 0h0m78 0h0m-424 1h0m115 1h0m134 0h0m98 0h0m23 0h0m16 1h0m-257 1h0m42 0h0m15 0h0m30 0h0m199 1h0m39 1h0m-377 1h0m176 0h0m95 0h0m73 0h0m-52 1h0m-378 1h0m417 0h0m99 0h0m-486 1h0m263 0h0m187 0h0m-141 1h0m146 0h0m52 0h0m-460 1h0m20 0h0m66 1h0m-192 1h0m106 0h0m55 0h0m72 0h0m103 0h0m88 0h0m122 0h0m-38 1h0m-494 1h0m103 0h0m179 0h0m38 0h0m48 1h0m125 0h0m64 0h0m21 0h0m-555 1h0m353 0h0m159 0h0m-280 1h0m32 0h0m37 0h0m-294 1h0m21 0h0m499 0h0m-294 1h0m-245 2h0m202 0h0m115 0h0m179 0h0m65 0h0m-441 1h0m61 0h0m113 0h0m-61 1h0m150 0h0m123 0h0m56 1h0m-153 1h0m-169 1h0m61 1h0m167 0h0m-456 1h0m348 0h0m10 1h0m-387 1h0m316 0h0m106 0h0m-300 1h0m29 0h0m179 0h0m22 0h0m-58 1h0m40 0h0m180 0h0m5 0h0m-197 1h0m181 0h0m-496 1h0m236 0h0m328 0h0m-520 1h0m195 1h0m246 0h0m-156 1h0m86 0h0m120 0h0m-440 1h0m21 0h0m400 0h0m46 0h0m6 0h0m-564 1h0m13 1h0m27 0h0m288 1h0m177 0h0m51 0h0m-119 1h0m-405 1h0m71 0h0m47 0h0m259 0h0m165 0h0m-477 1h0m-67 1h0m319 0h0m72 0h0m-187 1h0m-235 1h0m173 1h0m19 2h0m-101 1h0m-17 2h0m298 0h0m-368 1h0m200 0h0m17 0h0m87 1h0m-264 1h0m308 0h0m37 1h0m178 0h0m-294 1h0m-141 1h0m161 1h0m98 0h0m-155 1h0m-195 1h0m5 0h0m390 0h0m-211 1h0m343 0h0m-454 1h0m263 0h0m-206 1h0m85 0h0m-275 2h0m168 0h0m4 0h0m115 0h0m-221 3h0m282 1h0m5 0h0m-326 2h0m198 0h0m157 0h0m86 0h0m63 0h0m-209 1h0m169 0h0m-462 1h0m65 0h0m284 0h0m18 0h0m195 0h0m-585 1h0m319 0h0m158 0h0m88 0h0m-91 1h0m-46 1h0m-436 1h0m346 0h0m18 0h0m131 0h0m-353 1h0m-36 1h0m246 0h0m-142 1h0m-85 1h0m405 1h0m40 0h0m-342 1h0m-184 1h0m498 0h0m43 1h0m-462 1h0m225 0h0m242 0h0m-578 1h0m89 2h0m35 0h0m-98 1h0m169 0h0m82 0h0m66 0h0m179 0h0m-171 1h0m37 0h0m-121 1h0m183 0h0m-136 1h0m237 0h0m-354 1h0m94 0h0m41 0h0m75 0h0m-357 1h0m61 0h0m83 1h0m-108 1h0m452 0h0m31 0h0m-311 1h0m225 0h0m6 0h0m53 0h0m2 0h0m8 0h0m-200 1h0m-89 1h0m-185 1h0m129 0h0m19 0h0m29 1h0m95 1h0m73 0h0m164 0h0m-424 1h0m271 0h0m74 0h0m-172 1h0m193 0h0m53 0h0m-500 1h0m80 1h0m283 0h0m-401 1h0m-7 1h0m197 0h0m-199 1h0m340 0h0m93 0h0m-394 1h0m234 0h0m-75 1h0m228 1h0m-255 2h0m144 0h0m83 0h0m-86 2h0m184 0h0m-432 1h0m35 0h0m61 1h0m181 0h0m-377 1h0m11 0h0m341 0h0m64 0h0m4 0h0m57 0h0m87 0h0m-500 1h0m-7 1h0m463 0h0m-304 1h0m107 1h0m-102 1h0m80 0h0m12 0h0m-252 2h0m89 0h0m220 0h0m152 0h0m-235 1h0m56 0h0m-312 1h0m426 2h0m-329 1h0m41 0h0m19 0h0m251 0h0m37 0h0m4 0h0m45 0h0m-212 1h0m131 0h0m-208 1h0m20 0h0m-94 1h0m310 0h0m19 0h0m-310 1h0m-148 1h0m544 0h0m-560 1h0m72 0h0m392 0h0m-263 1h0m225 1h0m55 1h0m-339 1h0m-80 1h0m110 1h0m75 0h0m-252 1h0m216 0h0m86 0h0m119 0h0m-444 1h0m31 0h0m24 0h0m6 0h0m55 0h0m101 0h0m255 0h0m112 0h0m-454 1h0m58 0h0m170 1h0m-153 1h0m62 0h0m165 0h0m-112 1h0m23 0h0m8 0h0m174 0h0m-503 1h0m44 0h0m363 0h0m90 2h0m7 0h0m61 0h0m-320 1h0m3 0h0m72 0h0m129 0h0m-429 1h0m25 0h0m165 1h0m141 0h0m90 0h0m83 0h0m-53 1h0m-425 2h0m14 0h0m104 0h0m278 1h0m16 0h0m-468 2h0m48 0h0m375 0h0m-380 1h0m135 0h0m14 0h0m179 0h0m-334 1h0m406 0h0m57 0h0m-132 1h0m-233 1h0m75 0h0m118 0h0m9 0h0m-63 1h0m242 0h0m-43 1h0m-286 1h0m168 0h0m15 0h0m-170 1h0m51 0h0m73 0h0m9 0h0m-203 1h0m106 0h0m17 0h0m61 0h0m145 0h0m63 0h0m-233 1h0m-251 1h0m223 0h0m118 0h0m-204 1h0m183 0h0m43 0h0m23 0h0m141 0h0m-473 1h0m49 0h0m365 0h0m-380 1h0m458 0h0m2 0h0m-511 1h0m225 0h0m241 1h0m-481 1h0m374 0h0m-25 1h0m177 0h0m-186 1h0m128 0h0m-535 1h0m494 0h0m-378 1h0m274 0h0m8 0h0m-345 1h0m307 0h0m-213 1h0m266 0h0m-395 1h0m368 0h0"/>
<path id="n3" d="M.5 .5m479 0h0m73 0h0m-512 1h0m167 0h0m67 0h0m19 0h0m-66 1h0m6 0h0m-119 1h0m329 0h0m29 0h0m115 0h0m-272 1h0m18 0h0m-255 1h0m218 0h0m52 0h0m-285 1h0m159 0h0m-44 1h0m25 0h0m12 1h0m2 1h0m45 0h0m90 0h0m-274 1h0m181 0h0m243 1h0m-479 1h0m199 0h0m56 0h0m266 0h0m-416 1h0m211 0h0m-239 1h0m453 0h0m-511 1h0m110 0h0m35 0h0m48 0h0m359 0h0m-75 1h0m-490 1h0m47 0h0m214 0h0m53 0h0m-182 1h0m95 0h0m165 0h0m-95 1h0m-312 1h0m90 0h0m313 0h0m-357 1h0m20 0h0m168 1h0m146 0h0m11 0h0m194 0h0m-109 1h0m-353 1h0m43 0h0m218 0h0m-251 1h0m4 0h0m160 0h0m21 0h0m-142 1h0m44 0h0m250 1h0m47 0h0m-429 1h0m372 0h0m52 1h0m-469 1h0m460 0h0m-308 1h0m306 0h0m-484 1h0m235 0h0m-266 1h0m179 0h0m273 0h0m-326 2h0m43 0h0m171 0h0m-79 1h0m226 0h0m-123 1h0m-250 1h0m252 0h0m-259 1h0m400 0h0m-178 1h0m-165 3h0m31 0h0m39 0h0m279 0h0m10 0h0m52 0h0m24 0h0m-213 1h0m-53 1h0m78 0h0m45 0h0m-350 1h0m144 0h0m183 0h0m70 0h0m57 0h0m-371 2h0m113 0h0m78 0h0m160 0h0m-115 1h0m174 0h0m-497 3h0m322 0h0m98 0h0m10 0h0m-220 1h0m-247 1h0m152 0h0m-207 1h0m366 1h0m124 1h0m-182 2h0m256 0h0m-225 1h0m198 0h0m-492 1h0m59 0h0m299 0h0m-221 1h0m367 0h0m-493 1h0m-48 1h0m319 0h0m96 0h0m59 0h0m-370 1h0m-76 1h0m161 0h0m293 0h0m14 0h0m-465 1h0m458 0h0m66 0h0m-495 1h0m242 0h0m-316 1h0m151 0h0m-67 1h0m54 0h0m293 0h0m151 0h0m-181 1h0m-387 1h0m98 0h0m4 0h0m22 1h0m310 0h0m-268 1h0m12 1h0m282 2h0m74 0h0m-443 1h0m486 0h0m-578 1h0m151 0h0m74 0h0m50 0h0m287 0h0m-292 1h0m239 0h0m-329 1h0m208 0h0m133 1h0m-338 1h0m-96 1h0m395 0h0m-405 1h0m289 0h0m201 0h0m-221 1h0m180 0h0m-421 1h0m124 0h0m-160 1h0m93 0h0m191 0h0m96 0h0m-452 1h0m394 0h0m-162 1h0m231 0h0m-385 1h0m3 0h0m453 0h0m-525 1h0m344 0h0m79 0h0m-301 1h0m71 0h0m93 0h0m8 1h0m153 0h0m-454 1h0m155 0h0m21 0h0m-157 1h0m361 0h0m99 0h0m-453 1h0m71 0h0m141 0h0m168 0h0m-396 1h0m209 0h0m13 0h0m311 0h0m-433 1h0m142 0h0m-115 2h0m322 0h0m-236 1h0m-163 1h0m327 0h0m58 0h0m-177 1h0m72 0h0m15 0h0m65 0h0m-434 1h0m36 0h0m17 0h0m50 0h0m179 0h0m278 0h0m-466 1h0m197 0h0m12 0h0m-125 1h0m74 0h0m100 0h0m228 0h0m-439 1h0m205 0h0m27 0h0m117 0h0m-238 1h0m-26 1h0m88 0h0m98 0h0m145 0h0m-525 3h0m133 3h0m146 0h0m125 0h0m-315 2h0m365 0h0m-395 1h0m490 0h0m-495 1h0m328 0h0m48 0h0m91 0h0m-48 1h0m-147 1h0m-230 1h0m96 0h0m108 1h0m27 1h0m-241 2h0m404 0h0m-305 1h0m372 0h0m3 0h0m-549 1h0m-39 1h0m469 0h0m-343 1h0m165 0h0m17 0h0m-120 2h0m176 0h0m149 0h0m74 0h0m-479 1h0m244 0h0m174 0h0m22 1h0m-429 2h0m247 0h0m87 0h0m119 0h0m-382 1h0m54 0h0m83 1h0m160 0h0m-481 1h0m106 0h0m292 0h0m19 0h0m-237 1h0m158 0h0m-244 1h0m36 0h0m175 0h0m-300 1h0m580 0h0m-289 2h0m121 2h0m134 0h0m-545 1h0m120 0h0m268 0h0m-173 1h0m221 1h0m52 1h0m-459 1h0m393 0h0m100 0h0m-90 1h0m-389 1h0m6 0h0m475 0h0m-505 1h0m65 0h0m204 0h0m89 0h0m30 0h0m-360 1h0m171 0h0m182 0h0m6 0h0m-417 1h0m371 0h0m135 0h0m40 0h0m-465 1h0m61 0h0m135 0h0m-91 1h0m252 0h0m37 0h0m16 0h0m-440 1h0m44 0h0m150 1h0m309 0h0m-233 1h0m202 0h0m-370 1h0m81 0h0m323 0h0m-418 2h0m173 2h0m132 0h0m96 0h0m-279 1h0m-207 1h0m-7 1h0m81 0h0m216 0h0m53 0h0m57 0h0m-367 1h0m365 0h0m-392 1h0m112 0h0m-96 1h0m225 0h0m-96 2h0m151 1h0m147 0h0m-315 1h0m342 0h0m-281 1h0m25 0h0m11 0h0m17 0h0m150 0h0m-77 1h0m-193 1h0m264 0h0m18 0h0m-378 1h0m218 1h0m-167 1h0m10 0h0m78 1h0m172 0h0m19 2h0m-192 1h0m111 0h0m80 1h0m-286 1h0m37 1h0m176 1h0m-222 2h0m438 0h0m-12 1h0m-71 1h0m-384 1h0m499 0h0m-582 1h0m153 0h0m31 0h0m304 0h0m33 0h0m-37 2h0m60 1h0m-531 1h0m481 0h0m-352 1h0m168 0h0m69 0h0m-196 1h0m158 0h0m22 0h0m45 0h0m94 0h0m-401 2h0m221 1h0m220 0h0m-270 1h0m162 0h0m28 0h0m90 0h0m20 0h0m-420 1h0m65 0h0m228 0h0m-205 1h0m225 0h0m-82 1h0m5 0h0m-358 1h0m169 0h0m66 0h0m-77 1h0m235 0h0m82 0h0m25 0h0m-372 1h0m68 0h0m148 0h0m-294 1h0m-77 1h0m194 0h0m48 0h0m-182 1h0m181 0h0m50 0h0m44 0h0m88 0h0m95 0h0m-363 1h0m2 0h0m192 0h0m33 0h0m141 0h0m15 1h0m-56 1h0m-268 2h0m152 0h0m-230 1h0m243 0h0m136 0h0m-454 1h0m135 0h0m117 0h0m184 1h0m73 0h0m-456 1h0m39 0h0m406 1h0m-314 1h0m243 0h0m-332 1h0m135 0h0m-30 1h0m225 0h0m65 0h0m-325 1h0m211 0h0m-421 2h0m105 0h0m260 0h0m172 0h0m18 1h0m-488 1h0m-86 1h0m577 0h0m-313 1h0m171 0h0m-445 1h0m65 0h0m397 0h0m5 0h0m69 0h0m-359 1h0m39 0h0m209 0h0m-274 1h0m48 0h0m230 0h0m-264 2h0m44 0h0m117 0h0m-210 1h0m248 0h0m81 0h0m-402 2h0m143 1h0m148 0h0m221 0h0m-427 1h0m126 0h0m53 0h0m155 0h0m-54 1h0m-171 1h0m207 0h0m-64 1h0m5 0h0m181 0h0m-283 1h0m276 0h0m-471 1h0m-61 1h0m519 0h0m31 0h0m-574 2h0m268 0h0m96 0h0m185 0h0m-245 2h0m68 0h0m140 1h0m-470 1h0m480 1h0m-338 1h0m153 0h0m-274 1h0m382 1h0m133 0h0m-509 1h0m24 0h0m66 0h0m200 1h0m50 0h0m-356 1h0m389 0h0m-209 1h0m-201 1h0m-32 1h0m321 0h0m-165 1h0m146 0h0m-119 1h0m-155 1h0m98 0h0m171 1h0m90 0h0m1 0h0m-341 1h0m66 0h0m109 0h0m263 0h0m-132 1h0m235 0h0m-425 1h0m341 0h0m-274 1h0m81 0h0m-258 1h0m271 0h0m17 0h0m74 0h0m54 0h0m-257 1h0m77 1h0m-231 1h0m333 0h0m112 0h0m-20 1h0m58 1h0m35 0h0m-584 1h0m13 0h0m464 0h0m-12 1h0m-386 1h0m-27 1h0m-12 1h0m105 0h0m175 0h0m95 0h0m-351 1h0m449 1h0m26 0h0m37 0h0m-425 1h0m29 0h0m232 0h0m-10 1h0m-38 1h0m-348 1h0m355 0h0m140 0h0m7 0h0m-446 1h0m49 0h0m-95 1h0m72 0h0m121 0h0m164 0h0m-169 1h0m-168 1h0m171 0h0m48 0h0m177 0h0m119 0h0m-87 1h0m-378 1h0m192 1h0m-265 1h0m526 0h0m-417 1h0m14 0h0m3 0h0m248 0h0m-363 2h0m264 0h0m-153 1h0m99 0h0m-200 1h0m382 0h0m14 0h0m8 0h0m71 0h0m32 0h0m-392 1h0m265 0h0m61 0h0m-210 1h0m65 1h0m-254 1h0m143 0h0m233 0h0m47 0h0m64 0h0m-464 1h0m234 0h0m189 0h0m39 0h0m-431 1h0m45 0h0m293 0h0m74 0h0m7 0h0m-205 1h0m235 0h0m-516 1h0m431 0h0m-153 1h0m189 2h0m-465 1h0m373 0h0m73 0h0m-122 1h0m-103 3h0m157 1h0m92 0h0m-489 2h0m366 0h0m134 0h0m-551 2h0m400 0h0m188 0h0m-474 1h0m141 0h0m239 0h0m62 1h0m-358 1h0m272 0h0m-372 1h0m143 0h0m68 1h0m167 0h0m-378 2h0m449 0h0m-204 1h0m236 0h0m-365 1h0m-53 1h0m376 0h0m14 0h0m-64 1h0m59 0h0m-317 1h0m-77 2h0m239 0h0m51 0h0m-424 1h0m322 0h0m89 0h0m-367 1h0m59 1h0m221 1h0m-294 1h0m424 0h0m87 0h0m-376 1h0m184 0h0m128 0h0m63 0h0m-422 1h0m68 0h0m-76 1h0m-85 1h0m3 0h0m47 0h0m19 1h0m-50 2h0m529 0h0m-410 1h0m74 0h0m262 0h0m-513 2h0m121 0h0m317 0h0m-439 1h0m567 0h0m-489 1h0m165 0h0m-139 2h0m363 0h0m-273 1h0m21 0h0m235 0h0m76 0h0m-529 1h0m319 0h0m160 1h0m46 1h0m2 0h0m3 0h0m-514 1h0m45 1h0m73 0h0m311 0h0m24 0h0m23 0h0m-344 1h0m117 0h0m282 0h0m-320 2h0m47 0h0m95 1h0m27 0h0m-231 1h0m7 0h0m265 0h0m-168 1h0m9 0h0m246 0h0m-356 1h0m138 0h0m39 0h0m177 0h0m-393 1h0m28 0h0m89 0h0m184 1h0m82 0h0m51 1h0m19 0h0m-361 1h0m-97 1h0m412 2h0m-373 1h0m337 1h0m-150 1h0m111 0h0m-165 1h0m-190 1h0m78 0h0m121 0h0m49 0h0m-107 3h0m37 0h0m113 0h0m121 0h0m-359 2h0m252 0h0m32 0h0m-249 1h0m294 0h0m-223 1h0m16 0h0m194 0h0m100 0h0m-398 1h0m42 0h0m4 0h0m-99 2h0m-94 2h0m371 1h0m6 1h0m128 0h0m-335 1h0m102 0h0m217 0h0m-519 1h0m204 0h0m344 0h0m42 0h0m-391 1h0m178 1h0m-6 1h0m189 0h0m26 0h0m-526 1h0m346 0h0m-40 1h0m72 0h0m-417 1h0m138 0h0m10 0h0m204 1h0m97 0h0m54 0h0m-58 1h0m-295 1h0m85 0h0m-247 1h0m173 0h0m79 0h0m271 0h0m-467 1h0m509 0h0m-390 1h0m54 0h0m98 0h0m42 0h0m2 0h0m201 0h0m-573 1h0m309 0h0m200 0h0m-206 1h0m125 0h0m-407 1h0m270 0h0m94 0h0m189 0h0m-212 1h0m53 1h0m-392 1h0m281 1h0m116 0h0m-414 1h0m56 0h0m511 0h0m-428 1h0m36 1h0m191 0h0m34 0h0m-110 1h0m289 1h0m-530 1h0m415 0h0m-360 1h0m-20 1h0m18 0h0m189 0h0m80 0h0m111 0h0m-284 1h0m69 0h0m6 0h0m44 0h0m-314 1h0m130 0h0m89 0h0m115 1h0m130 1h0m10 0h0m55 0h0m13 0h0m-453 1h0m15 0h0m399 0h0m-251 1h0m-244 1h0m11 0h0m218 0h0m-185 1h0m399 0h0m-456 1h0m469 0h0m-407 1h0m57 0h0m106 0h0m-153 1h0m432 0h0m-136 2h0m4 0h0m58 1h0m139 0h0m-534 1h0m47 0h0m254 0h0m-282 1h0m115 0h0m211 1h0m164 0h0m-469 1h0m405 0h0m3 0h0m-343 1h0m-100 1h0m95 0h0m70 0h0m8 0h0m286 0h0m-324 1h0m256 0h0m106 1h0m20 0h0m-228 1h0m145 0h0m-33 1h0m-127 3h0m202 0h0m-521 1h0m3 0h0m365 1h0m50 0h0m-373 1h0m68 0h0m184 0h0m74 0h0m-332 1h0m344 0h0m69 0h0m67 0h0m-442 1h0m420 1h0m69 1h0m-565 1h0m528 0h0m14 0h0m-104 2h0m-394 1h0m80 1h0m128 0h0m266 0h0m-35 1h0m-295 2h0m-180 1h0m283 0h0m-201 1h0m286 0h0m168 0h0m-507 4h0m439 0h0m-29 1h0m-211 2h0m260 0h0m-217 1h0m11 1h0m136 0h0m-403 1h0m452 0h0m-183 1h0m-161 1h0m11 0h0m298 0h0m-91 1h0m187 0h0m-181 1h0m164 0h0m-479 1h0m81 0h0m248 0h0m-62 1h0m187 0h0m-392 1h0m69 0h0m-119 1h0m524 3h0m-327 1h0m298 0h0m-358 1h0m115 2h0m7 0h0m258 0h0m-443 1h0m25 0h0m128 0h0m-126 1h0m417 0h0m-375 1h0m350 0h0m-502 1h0m5 0h0m-59 2h0m154 0h0m18 0h0m235 0h0m58 0h0m-183 2h0m-107 1h0m62 0h0m21 0h0m125 0h0m72 0h0m7 1h0m-221 1h0m74 0h0m11 0h0m182 0h0m-425 1h0m3 0h0m87 0h0m87 0h0m167 0h0m-36 1h0m-182 1h0m-186 1h0m102 0h0m61 0h0m137 0h0m27 0h0m141 1h0m79 0h0m-513 1h0m167 0h0m123 1h0m37 0h0m119 0h0m-479 1h0m93 0h0m81 0h0m-46 1h0m182 0h0m-170 1h0m4 0h0m44 0h0m346 0h0m30 0h0m-429 1h0m-156 1h0m279 0h0m49 0h0m165 0h0m-307 1h0m44 1h0m159 0h0m117 0h0m-323 1h0m390 0h0m9 0h0m-472 1h0m12 0h0m202 0h0m141 0h0m86 0h0m-385 2h0m241 1h0m109 1h0m-411 1h0m100 0h0m96 0h0m7 0h0m-255 1h0m404 0h0m26 0h0m-258 1h0m-180 2h0m139 0h0m171 0h0m-249 1h0m178 0h0m137 0h0m91 0h0m-275 1h0m218 1h0m78 0h0m-529 1h0m173 0h0m60 1h0m10 0h0m22 0h0m44 0h0m107 0h0m-16 1h0m-322 2h0m390 0h0m-177 1h0m24 0h0m194 1h0m-58 1h0m104 0h0m-316 1h0m65 1h0m226 0h0m59 0h0m-28 1h0m-264 1h0m70 0h0m138 0h0m-248 1h0m189 0h0m44 0h0m-95 1h0m63 0h0m-399 1h0m116 0h0m-29 1h0m40 0h0m65 0h0m36 0h0m192 0h0m-477 1h0m137 0h0m23 0h0m382 0h0m-451 1h0m118 0h0m15 0h0m15 0h0m74 0h0m41 1h0m94 0h0m80 0h0m-458 1h0m303 0h0m-183 1h0m86 0h0m73 1h0m130 0h0m-377 1h0m144 0h0m-17 1h0m115 0h0m232 0h0m-530 1h0m53 0h0m123 0h0m-100 1h0m128 0h0m37 1h0m68 0h0m196 1h0m-358 1h0m-204 1h0m177 0h0m-95 1h0m446 0h0m64 0h0m-551 1h0m137 0h0m148 0h0m3 0h0m85 0h0m10 0h0m-257 1h0m-23 1h0m170 0h0m-253 1h0m385 0h0m-122 1h0m56 0h0m-273 1h0m-8 1h0m66 0h0m140 0h0m30 1h0m-85 1h0m185 0h0m-272 1h0m414 0h0m-301 1h0m85 1h0m59 0h0m-173 1h0m188 0h0m84 2h0m-389 1h0m36 0h0m23 0h0m102 0h0m294 0h0m-437 1h0m248 0h0m16 0h0m-284 1h0m403 0h0m-228 1h0m98 0h0m142 0h0m-480 1h0m401 0h0m5 0h0m-51 1h0m-160 1h0m-220 1h0m63 0h0m486 0h0m-140 2h0m-55 1h0m-371 1h0m241 0h0m270 1h0m-507 1h0m145 0h0m142 0h0m252 0h0m-303 1h0m83 0h0m252 0h0m-192 1h0m185 1h0"/>
<path id="n4" d="M.5 .5m293 1h0m186 -1h0m-131 5h0m95 -2h0m29 0h0m115 0h0m-524 3h0m140 1h0m56 3h0m3 -1h0m-40 3h0m56 0h0m266 0h0m-25 4h0m75 -1h0m-490 5h0m222 -1h0m91 1h0m4 -2h0m-341 3h0m168 1h0m242 1h0m-343 2h0m185 0h0m66 -1h0m76 4h0m-208 4h0m-97 3h0m171 0h0m24 2h0m123 -1h0m20 3h0m-121 5h0m189 -1h0m-242 2h0m78 0h0m45 0h0m104 1h0m-371 2h0m236 1h0m-323 3h0m274 4h0m37 5h0m-395 3h0m104 1h0m-73 2h0m537 3h0m-568 2h0m102 0h0m22 1h0m42 1h0m294 3h0m-369 1h0m133 1h0m45 1h0m118 1h0m-42 5h0m136 -2h0m85 1h0m-462 2h0m248 1h0m38 1h0m-313 2h0m272 1h0m79 0h0m31 -2h0m-461 5h0m200 -2h0m-190 5h0m209 0h0m324 0h0m-433 1h0m27 2h0m218 3h0m90 -1h0m-459 2h0m103 0h0m149 2h0m30 -2h0m278 0h0m20 2h0m-207 1h0m-208 8h0m146 0h0m-220 3h0m490 0h0m-167 1h0m139 0h0m-425 3h0m231 2h0m-241 2h0m404 0h0m-479 2h0m149 4h0m399 0h0m-468 4h0m429 -2h0m24 2h0m-328 1h0m160 2h0m83 -1h0m-476 4h0m89 -1h0m211 0h0m280 1h0m-579 5h0m215 1h0m217 4h0m92 1h0m-258 4h0m214 1h0m-257 4h0m289 -1h0m-211 5h0m-184 3h0m133 -2h0m83 2h0m53 0h0m-123 8h0m-188 3h0m218 1h0m160 -2h0m-240 7h0m322 7h0m-385 3h0m314 -2h0m17 4h0m-174 3h0m31 1h0m38 -1h0m66 6h0m107 -1h0m-353 4h0m224 1h0m82 0h0m-502 3h0m242 0h0m129 -2h0m-311 3h0m95 1h0m194 0h0m169 -1h0m5 1h0m-327 6h0m117 0h0m-199 2h0m445 1h0m-543 6h0m105 0h0m260 0h0m172 0h0m-292 4h0m262 1h0m-327 4h0m117 0h0m-19 5h0m155 0h0m-82 3h0m186 0h0m-563 5h0m268 0h0m-199 9h0m-16 2h0m268 3h0m-195 3h0m262 1h0m-225 3h0m59 -2h0m263 0h0m19 2h0m-215 4h0m214 1h0m73 2h0m-8 7h0m-560 4h0m348 -1h0m147 1h0m-485 2h0m20 2h0m428 1h0m-328 4h0m142 -2h0m109 2h0m-252 3h0m130 3h0m244 -2h0m32 0h0m-442 5h0m353 -1h0m111 0h0m-500 4h0m67 -2h0m338 0h0m26 2h0m85 -1h0m-49 4h0m-92 1h0m-152 4h0m126 3h0m-303 3h0m127 3h0m68 1h0m238 2h0m32 1h0m-28 2h0m-322 2h0m213 2h0m-380 2h0m59 1h0m-73 2h0m294 -1h0m216 2h0m-512 3h0m90 -2h0m-24 3h0m-108 5h0m251 -2h0m262 0h0m-299 7h0m252 -1h0m60 4h0m-265 3h0m204 -1h0m23 0h0m-218 3h0m163 2h0m-308 3h0m39 -1h0m138 0h0m39 0h0m177 0h0m2 -1h0m58 4h0m-419 5h0m337 1h0m-394 3h0m78 0h0m10 6h0m217 -1h0m164 2h0m-356 1h0m-189 4h0m-30 4h0m204 0h0m98 -1h0m105 -1h0m-36 5h0m189 0h0m26 0h0m-565 3h0m148 0h0m355 1h0m-515 3h0m369 2h0m2 0h0m201 0h0m-573 1h0m291 2h0m137 -1h0m-283 7h0m261 1h0m-29 5h0m161 4h0m13 0h0m-523 3h0m218 0h0m227 2h0m-397 2h0m432 0h0m-469 4h0m301 0h0m-282 1h0m429 2h0m-443 2h0m100 -1h0m35 2h0m30 -1h0m294 0h0m-170 3h0m112 1h0m96 -2h0m-223 5h0m-319 1h0m3 0h0m42 2h0m323 -1h0m-329 2h0m504 4h0m-498 3h0m439 2h0m-393 4h0m286 0h0m168 0h0m-97 5h0m28 5h0m-333 2h0m-102 3h0m315 -1h0m14 1h0m-317 3h0m137 5h0m115 2h0m7 0h0m258 0h0m-290 1h0m-118 5h0m235 0h0m58 0h0m-290 3h0m107 -1h0m101 1h0m-300 3h0m232 -1h0m112 1h0m-241 3h0m137 0h0m68 -2h0m-167 4h0m-72 3h0m16 1h0m44 0h0m-209 2h0m156 -1h0m337 1h0m80 3h0m-166 4h0m-354 3h0m152 -1h0m-21 4h0m171 0h0m-249 1h0m71 3h0m92 1h0m26 4h0m13 4h0m285 0h0m-530 5h0m-57 2h0m137 0h0m7 -1h0m65 2h0m76 -2h0m192 0h0m65 1h0m-352 4h0m258 -2h0m80 0h0m-335 10h0m358 -1h0m-236 4h0m3 0h0m85 0h0m10 0h0m-363 3h0m83 -1h0m170 0h0m66 2h0m66 -1h0m-347 3h0m206 0h0m-29 4h0m-29 2h0m114 -1h0m59 0h0m-129 4h0m105 1h0m-268 1h0m273 1h0m63 1h0m-363 3h0m291 3h0m-367 3h0m237 -2h0m50 2h0m32 1h0m252 0h0"/>
<path id="n5" d="M.5 .5m114 3h0m238 6h0m-96 9h0m228 9h0m42 2h0m-495 3h0m75 14h0m144 0h0m-58 16h0m-37 7h0m41 6h0m1 6h0m3 2h0m-158 14h0m242 7h0m-30 5h0m-131 9h0m341 2h0m-35 20h0m-368 14h0m-54 3h0m87 14h0m85 1h0m331 4h0m-88 12h0m-249 2h0m-46 3h0m40 15h0m378 4h0m-372 1h0m136 3h0m132 0h0m-209 5h0m12 9h0m-239 7h0m151 2h0m103 7h0m-219 21h0m198 9h0m161 4h0m150 2h0m-404 5h0m6 3h0m261 0h0m127 -1h0m-21 4h0m-422 6h0m63 8h0m-73 3h0m71 31h0m31 6h0m296 16h0m-418 3h0m87 1h0m79 2h0m169 1h0m167 6h0m-27 4h0m-240 4h0m147 6h0m32 2h0m60 7h0m-475 6h0m178 8h0m132 4h0m-58 3h0m-249 6h0m418 6h0m-469 5h0m82 6h0m87 1h0m311 2h0m-6 5h0m-366 7h0m406 1h0m-182 56h0m-13 2h0m254 1h0m-261 6h0m141 0h0m-45 14h0m-241 13h0m82 -2h0m233 0h0m-239 3h0m-127 10h0m-133 4h0m528 1h0m-363 7h0m270 6h0m-132 6h0m240 0h0m-285 3h0m-237 5h0m149 2h0m394 0h0"/>
<g id="nz" fill="none" stroke-linecap="round">
<use href="#n0" stroke="#520ea8" stroke-width="6.3" stroke-opacity="0.22"/>
<use href="#n1" stroke="#7814b4" stroke-width="6.3" stroke-opacity="0.22"/>
<use href="#n2" stroke="#a01aba" stroke-width="6.3" stroke-opacity="0.22"/>
<use href="#n3" stroke="#cc2eb0" stroke-width="6.3" stroke-opacity="0.22"/>
<use href="#n0" stroke="#520ea8" stroke-width="4.5" stroke-opacity="0.5"/>
<use href="#n1" stroke="#7814b4" stroke-width="4.5" stroke-opacity="0.5"/>
<use href="#n2" stroke="#a01aba" stroke-width="4.5" stroke-opacity="0.5"/>
<use href="#n3" stroke="#cc2eb0" stroke-width="4.5" stroke-opacity="0.5"/>
<use href="#n0" stroke="#520ea8" stroke-width="2.85"/>
<use href="#n1" stroke="#7814b4" stroke-width="2.85"/>
<use href="#n2" stroke="#a01aba" stroke-width="2.85"/>
<use href="#n3" stroke="#cc2eb0" stroke-width="2.85"/>
<use href="#n4" stroke="#f85c98" stroke-width="3.3" stroke-opacity="0.55"/>
<use href="#n5" stroke="#ffa070" stroke-width="3.3" stroke-opacity="0.55"/>
<use href="#n4" stroke="#f85c98" stroke-width="2.1"/>
<use href="#n5" stroke="#ffa070" stroke-width="2.1"/>
</g>
<g id="pm" stroke-linejoin="round" stroke-linecap="round">
<path fill="none" stroke="#d840a0" stroke-width="2.3" stroke-opacity=".55" d="M82.2 107.1 85.3 106.2 88.5 104.7 90.5 104.2 92.7 103.8 96.3 103.3 99 101.7 100.7 99.7"/>
<path fill="none" stroke="#f66a80" stroke-width="1.6" d="M82.4 107 85.3 106.2 88.5 104.7 90.5 104.2 92.7 103.8 96.3 103.3 99 101.7 100.7 99.7"/>
<path fill="none" stroke="#f66a80" stroke-width="2.5" d="M84 106.5 86.4 105.7 88.5 104.7 90 104.3"/>
<path fill="none" stroke="#ff9446" stroke-width="1" d="M82.8 106.9 85.3 106.2 88.5 104.7 90.5 104.2 92.7 103.8 96.3 103.3 99 101.7 100.6 99.9"/>
<path fill="none" stroke="#ffa040" stroke-width="1.7" d="M84.6 106.3 86.4 105.7 88.5 104.7 89.8 104.4"/>
<path fill="#c432a4" fill-opacity=".8" d="M81.2 133.3 83 132.8 85.1 133.3 85.3 136.5 85.1 139.6 84.3 141.8 83 143.5 81.2 145.9 79.5 144.6 76.8 142 77.8 139.5 78.9 137.2 79.1 134.7 80.5 134.6z"/>
<path fill="#dc4296" d="M82 133.8 84.5 134 84.6 139.4 83.4 142.4 81.2 144.8 78 142 79.6 138 80.4 135.2z"/>
<path fill="#ea5488" d="M82.8 135 83.9 135.2 83.9 139 82.8 141.6 81 143.4 79.8 142.2 80.8 139 81.6 136.4z"/>
<path fill="#b426a8" fill-opacity=".8" d="M87.3 153 89.2 153 90 154.5 92 156 90.6 157.5 90.2 159.5 88.8 160 87.8 158 87.2 155.5z"/>
<path fill="#da409a" stroke="#da409a" stroke-width=".5" d="M87.9 153.7 89.2 153.9 90 155.5 90.8 156.2 89.9 157.4 89.7 158.9 88.6 159.2 88.2 157.6 87.9 155.6z"/>
</g>
</defs>
<svg x="88.1" y="86" width="601.5" height="604.9" viewBox="0 0 600 600" preserveAspectRatio="none">
<rect width="600" height="600" fill="#080098"/>
<use href="#nz"/><g filter="url(#bl)"><use href="#pm" transform="scale(3)"/></g>
</svg>
<svg x="706.4" y="86" width="638.4" height="604.9" viewBox="0 0 600 600" preserveAspectRatio="none">
<rect width="600" height="600" fill="#080098"/>
<use href="#nz" transform="translate(600 0) scale(-1 1)"/><g filter="url(#bl)"><use href="#pm" transform="scale(3)"/></g>
</svg>
<svg x="1353.8" y="86" width="639.8" height="604.9" viewBox="0 0 600 600" preserveAspectRatio="none">
<rect width="600" height="600" fill="#080098"/>
<use href="#nz" transform="translate(0 600) scale(1 -1)"/><g filter="url(#bl)"><use href="#pm" transform="scale(3)"/></g>
</svg>
<svg x="85.5" y="849.4" width="603.1" height="584.2" viewBox="0 0 600 600" preserveAspectRatio="none">
<rect width="600" height="600" fill="#080098"/>
<use href="#nz" transform="translate(600 600) scale(-1 -1)"/><g filter="url(#bl)"><use href="#pm" transform="scale(3)"/></g>
</svg>
<svg x="705.2" y="849.4" width="637.6" height="584.2" viewBox="0 0 600 600" preserveAspectRatio="none">
<rect width="600" height="600" fill="#080098"/>
<use href="#nz" transform="matrix(0 1 1 0 0 0)"/><g filter="url(#bl)"><use href="#pm" transform="scale(3)"/></g>
</svg>
<svg x="1354.2" y="849.4" width="641.2" height="584.2" viewBox="0 0 600 600" preserveAspectRatio="none">
<rect width="600" height="600" fill="#080098"/>
<use href="#nz" transform="matrix(0 -1 -1 0 600 600)"/><g filter="url(#bl)"><use href="#pm" transform="scale(3)"/></g>
</svg>
<rect x="88.1" y="84" width="601.5" height="2.4" fill="#d6d4de" filter="url(#tb)"/>
<rect x="88.1" y="690.9" width="601.5" height="3.3" fill="#e4e0f6"/>
<rect x="88.1" y="694.2" width="602.1" height="2.1" fill="#6c6c6c"/>
<path d="M90.4 695.8v5.8M165.4 695.8v5.8M240.4 695.8v5.8M315.4 695.8v5.8M390.4 695.8v5.8M465.4 695.8v5.8M540.4 695.8v5.8M615.4 695.8v5.8" stroke="#6a6a6a" stroke-width="2" fill="none"/>
<path d="M88.1 88.8h-6.6M88.1 164.35h-6.6M88.1 239.9h-6.6M88.1 315.45h-6.6M88.1 391h-6.6M88.1 466.55h-6.6M88.1 542.1h-6.6M88.1 617.65h-6.6" stroke="#1c1c1c" stroke-width="2" fill="none"/>
<rect x="87.9" y="86" width="2.6" height="604.9" fill="#0c0c3c"/>
<rect x="87.1" y="86" width="1.2" height="604.9" fill="#77779a"/>
<rect x="689" y="86" width="1" height="608.9" fill="#202050" opacity="0.7"/>
<rect x="706.4" y="84" width="638.4" height="2.4" fill="#d6d4de" filter="url(#tb)"/>
<rect x="706.4" y="690.9" width="638.4" height="3.3" fill="#e4e0f6"/>
<rect x="706.4" y="694.2" width="639" height="2.1" fill="#6c6c6c"/>
<path d="M708.6 695.8v5.8M788.4 695.8v5.8M868.2 695.8v5.8M948 695.8v5.8M1027.8 695.8v5.8M1107.6 695.8v5.8M1187.4 695.8v5.8M1267.2 695.8v5.8" stroke="#6a6a6a" stroke-width="2" fill="none"/>
<path d="M706.7 85.2h-6.6M706.7 161.6h-6.6M706.7 238h-6.6M706.7 314.4h-6.6M706.7 390.8h-6.6M706.7 467.2h-6.6M706.7 543.6h-6.6M706.7 620h-6.6" stroke="#4c4c4c" stroke-width="2" fill="none"/>
<rect x="705.2" y="86" width="2" height="608.9" fill="#3c3c58"/>
<rect x="1344.2" y="86" width="1" height="608.9" fill="#202050" opacity="0.7"/>
<rect x="1353.8" y="84" width="639.8" height="2.4" fill="#d6d4de" filter="url(#tb)"/>
<rect x="1353.8" y="690.9" width="639.8" height="3.3" fill="#e4e0f6"/>
<rect x="1353.8" y="694.2" width="640.4" height="2.1" fill="#6c6c6c"/>
<path d="M1355.3 695.8v5.8M1435.5 695.8v5.8M1515.7 695.8v5.8M1595.9 695.8v5.8M1676.1 695.8v5.8M1756.3 695.8v5.8M1836.5 695.8v5.8M1916.7 695.8v5.8" stroke="#6a6a6a" stroke-width="2" fill="none"/>
<path d="M1354.1 85.2h-6.6M1354.1 161.6h-6.6M1354.1 238h-6.6M1354.1 314.4h-6.6M1354.1 390.8h-6.6M1354.1 467.2h-6.6M1354.1 543.6h-6.6M1354.1 620h-6.6" stroke="#4c4c4c" stroke-width="2" fill="none"/>
<rect x="1352.6" y="86" width="2" height="608.9" fill="#3c3c58"/>
<rect x="1993" y="86" width="1" height="608.9" fill="#202050" opacity="0.7"/>
<rect x="85.5" y="846.4" width="603.1" height="3.1" fill="#b2b2b6"/>
<rect x="85.5" y="1433.6" width="603.1" height="2.5" fill="#d8d6ee"/>
<rect x="85.5" y="1436.1" width="603.7" height="1.9" fill="#747474"/>
<path d="M88.1 1437.5v5.6M163.3 1437.5v5.6M238.5 1437.5v5.6M313.7 1437.5v5.6M388.9 1437.5v5.6M464.1 1437.5v5.6M539.3 1437.5v5.6M614.5 1437.5v5.6" stroke="#6a6a6a" stroke-width="2" fill="none"/>
<path d="M85.5 849.6h-6.6M85.5 922.95h-6.6M85.5 996.3h-6.6M85.5 1069.65h-6.6M85.5 1143h-6.6M85.5 1216.35h-6.6M85.5 1289.7h-6.6M85.5 1363.05h-6.6" stroke="#1c1c1c" stroke-width="2" fill="none"/>
<rect x="85.3" y="849.4" width="2.6" height="584.2" fill="#0c0c3c"/>
<rect x="84.5" y="849.4" width="1.2" height="584.2" fill="#77779a"/>
<rect x="688" y="849.4" width="1" height="588.2" fill="#202050" opacity="0.7"/>
<rect x="705.2" y="846.4" width="637.6" height="3.1" fill="#b2b2b6"/>
<rect x="705.2" y="1433.6" width="637.6" height="2.5" fill="#d8d6ee"/>
<rect x="705.2" y="1436.1" width="638.2" height="1.9" fill="#747474"/>
<path d="M706.9 1437.5v5.6M786.6 1437.5v5.6M866.3 1437.5v5.6M946 1437.5v5.6M1025.7 1437.5v5.6M1105.4 1437.5v5.6M1185.1 1437.5v5.6M1264.8 1437.5v5.6" stroke="#6a6a6a" stroke-width="2" fill="none"/>
<path d="M705.5 847.4h-6.6M705.5 921.3h-6.6M705.5 995.2h-6.6M705.5 1069.1h-6.6M705.5 1143h-6.6M705.5 1216.9h-6.6M705.5 1290.8h-6.6M705.5 1364.7h-6.6" stroke="#4c4c4c" stroke-width="2" fill="none"/>
<rect x="704" y="849.4" width="2" height="588.2" fill="#3c3c58"/>
<rect x="1342.2" y="849.4" width="1" height="588.2" fill="#202050" opacity="0.7"/>
<rect x="1354.2" y="846.4" width="641.2" height="3.1" fill="#b2b2b6"/>
<rect x="1354.2" y="1433.6" width="641.2" height="2.5" fill="#d8d6ee"/>
<rect x="1354.2" y="1436.1" width="641.8" height="1.9" fill="#747474"/>
<path d="M1357.3 1437.5v5.6M1437.5 1437.5v5.6M1517.7 1437.5v5.6M1597.9 1437.5v5.6M1678.1 1437.5v5.6M1758.3 1437.5v5.6M1838.5 1437.5v5.6M1918.7 1437.5v5.6" stroke="#6a6a6a" stroke-width="2" fill="none"/>
<path d="M1354.5 847.6h-6.6M1354.5 921.4h-6.6M1354.5 995.2h-6.6M1354.5 1069h-6.6M1354.5 1142.8h-6.6M1354.5 1216.6h-6.6M1354.5 1290.4h-6.6M1354.5 1364.2h-6.6" stroke="#4c4c4c" stroke-width="2" fill="none"/>
<rect x="1353" y="849.4" width="2" height="588.2" fill="#3c3c58"/>
<rect x="1994.8" y="849.4" width="1" height="588.2" fill="#202050" opacity="0.7"/>
<rect x="91.1" y="89.2" width="420.5" height="155.8" fill="#fff"/>
<rect x="711.8" y="89.2" width="422.1" height="155.8" fill="#fff"/>
<rect x="1344.8" y="92.8" width="415.5" height="152.2" fill="#fff"/>
<rect x="91.5" y="857.8" width="421.8" height="156.3" fill="#fff"/>
<rect x="711.6" y="848.2" width="422.4" height="156.4" fill="#fff"/>
<rect x="1354.2" y="858.4" width="420.8" height="154.9" fill="#fff"/>
<g class="sa" font-size="19.4" fill="#0a0a0a" text-anchor="end">
<text x="76.2" y="96.18">0</text>
<text x="76.2" y="171.73">25</text>
<text x="76.2" y="247.28">50</text>
<text x="76.2" y="322.83">75</text>
<text x="76.2" y="398.38">100</text>
<text x="76.2" y="473.93">125</text>
<text x="76.2" y="549.48">150</text>
<text x="76.2" y="625.03">175</text>
<text x="71.8" y="856.88">0</text>
<text x="71.8" y="930.23">25</text>
<text x="71.8" y="1003.58">50</text>
<text x="71.8" y="1076.93">75</text>
<text x="71.8" y="1150.28">100</text>
<text x="71.8" y="1223.63">125</text>
<text x="71.8" y="1296.98">150</text>
<text x="71.8" y="1370.33">175</text>
</g>
<g class="sa" font-size="17.2" fill="#161616" stroke="#161616" stroke-width="0.45" text-anchor="middle" filter="url(#tb)">
<text x="88.4" y="1464.6">0</text>
<text x="163.6" y="1464.6">25</text>
<text x="238.8" y="1464.6">50</text>
<text x="314" y="1464.6">75</text>
<text x="389.2" y="1464.6">100</text>
<text x="464.4" y="1464.6">125</text>
<text x="539.6" y="1464.6">150</text>
<text x="614.8" y="1464.6">175</text>
<text x="707.2" y="1464.6">0</text>
<text x="786.9" y="1464.6">25</text>
<text x="866.6" y="1464.6">50</text>
<text x="946.3" y="1464.6">75</text>
<text x="1026" y="1464.6">100</text>
<text x="1105.7" y="1464.6">125</text>
<text x="1185.4" y="1464.6">150</text>
<text x="1265.1" y="1464.6">175</text>
<text x="1357.6" y="1464.6">0</text>
<text x="1437.8" y="1464.6">25</text>
<text x="1518" y="1464.6">50</text>
<text x="1598.2" y="1464.6">75</text>
<text x="1678.4" y="1464.6">100</text>
<text x="1758.6" y="1464.6">125</text>
<text x="1838.8" y="1464.6">150</text>
<text x="1919" y="1464.6">175</text>
</g>
<g class="se" font-size="55" fill="#000">
<text x="141.4" y="187.8" textLength="319.3" lengthAdjust="spacingAndGlyphs">bias=−47.96%</text>
<text x="764.1" y="187.5" textLength="319.5" lengthAdjust="spacingAndGlyphs">bias=−43.47%</text>
<text x="1392.9" y="187.2" textLength="319.2" lengthAdjust="spacingAndGlyphs">bias=−41.26%</text>
<text x="143.7" y="956.8" textLength="319.3" lengthAdjust="spacingAndGlyphs">bias=−40.21%</text>
<text x="763.5" y="947.7" textLength="320.2" lengthAdjust="spacingAndGlyphs">bias=−40.27%</text>
<text x="1405.5" y="956.4" textLength="319.2" lengthAdjust="spacingAndGlyphs">bias=−40.50%</text>
</g>
<g class="se" font-size="65" fill="#fff">
<text x="484.3" y="655.2" textLength="200.2" lengthAdjust="spacingAndGlyphs">ALH=0</text>
<text x="1115.1" y="655.6" textLength="195.3" lengthAdjust="spacingAndGlyphs">ALH=1</text>
<text x="1739" y="642.3" textLength="198.8" lengthAdjust="spacingAndGlyphs">ALH=2</text>
<text x="473.7" y="1395" textLength="196.4" lengthAdjust="spacingAndGlyphs">ALH=3</text>
<text x="1104.8" y="1395" textLength="199.7" lengthAdjust="spacingAndGlyphs">ALH=4</text>
<text x="1776" y="1395.4" textLength="198.5" lengthAdjust="spacingAndGlyphs">ALH=5</text>
</g>
<g class="se" font-size="111.5" fill="#000" stroke="#000" stroke-width="0.9">
<text x="337.6" y="797.6" textLength="126" lengthAdjust="spacingAndGlyphs">(a)</text>
<text x="944.4" y="797.8" textLength="133.7" lengthAdjust="spacingAndGlyphs">(b)</text>
<text x="1673" y="785.5" textLength="123.7" lengthAdjust="spacingAndGlyphs">(c)</text>
<text x="334.7" y="1560.3" textLength="131.8" lengthAdjust="spacingAndGlyphs">(d)</text>
<text x="948.4" y="1560" textLength="126.4" lengthAdjust="spacingAndGlyphs">(e)</text>
<text x="1666.3" y="1560" textLength="113.7" lengthAdjust="spacingAndGlyphs">(f)</text>
</g>
<rect x="2062" y="60" width="68" height="1435" fill="url(#pl)"/>
<g filter="url(#tb2)"><rect x="2061.9" y="60.3" width="67.9" height="1434.4" fill="none" stroke="#2b2b2b" stroke-width="4.3"/>
<path d="M2130 1495.5H2143.4M2130 1208.7H2143.4M2130 921.4H2143.4M2130 634.6H2143.4M2130 347.6H2143.4M2130 60.3H2143.4" stroke="#333" stroke-width="3.4" fill="none"/></g>
<g class="ar" font-size="48.4" fill="#141414" stroke="#141414" stroke-width="0.7" filter="url(#tb2)">
<text transform="translate(2157.9 1513.1) scale(0.955 1)">0</text>
<text transform="translate(2157.9 1226.7) scale(0.955 1)">2000</text>
<text transform="translate(2157.9 939.4) scale(0.955 1)">4000</text>
<text transform="translate(2157.9 652.6) scale(0.955 1)">6000</text>
<text transform="translate(2157.9 365.6) scale(0.955 1)">8000</text>
</g>
<text class="se" font-size="44.6" x="2157.2" y="71.8" fill="#000">10,000</text>
<text class="se" font-size="71" fill="#000" transform="translate(2376.8 873) rotate(-90)" textLength="464.5" lengthAdjust="spacingAndGlyphs">ΔXCH (ppm·m)</text>
</svg>
</body></html>
